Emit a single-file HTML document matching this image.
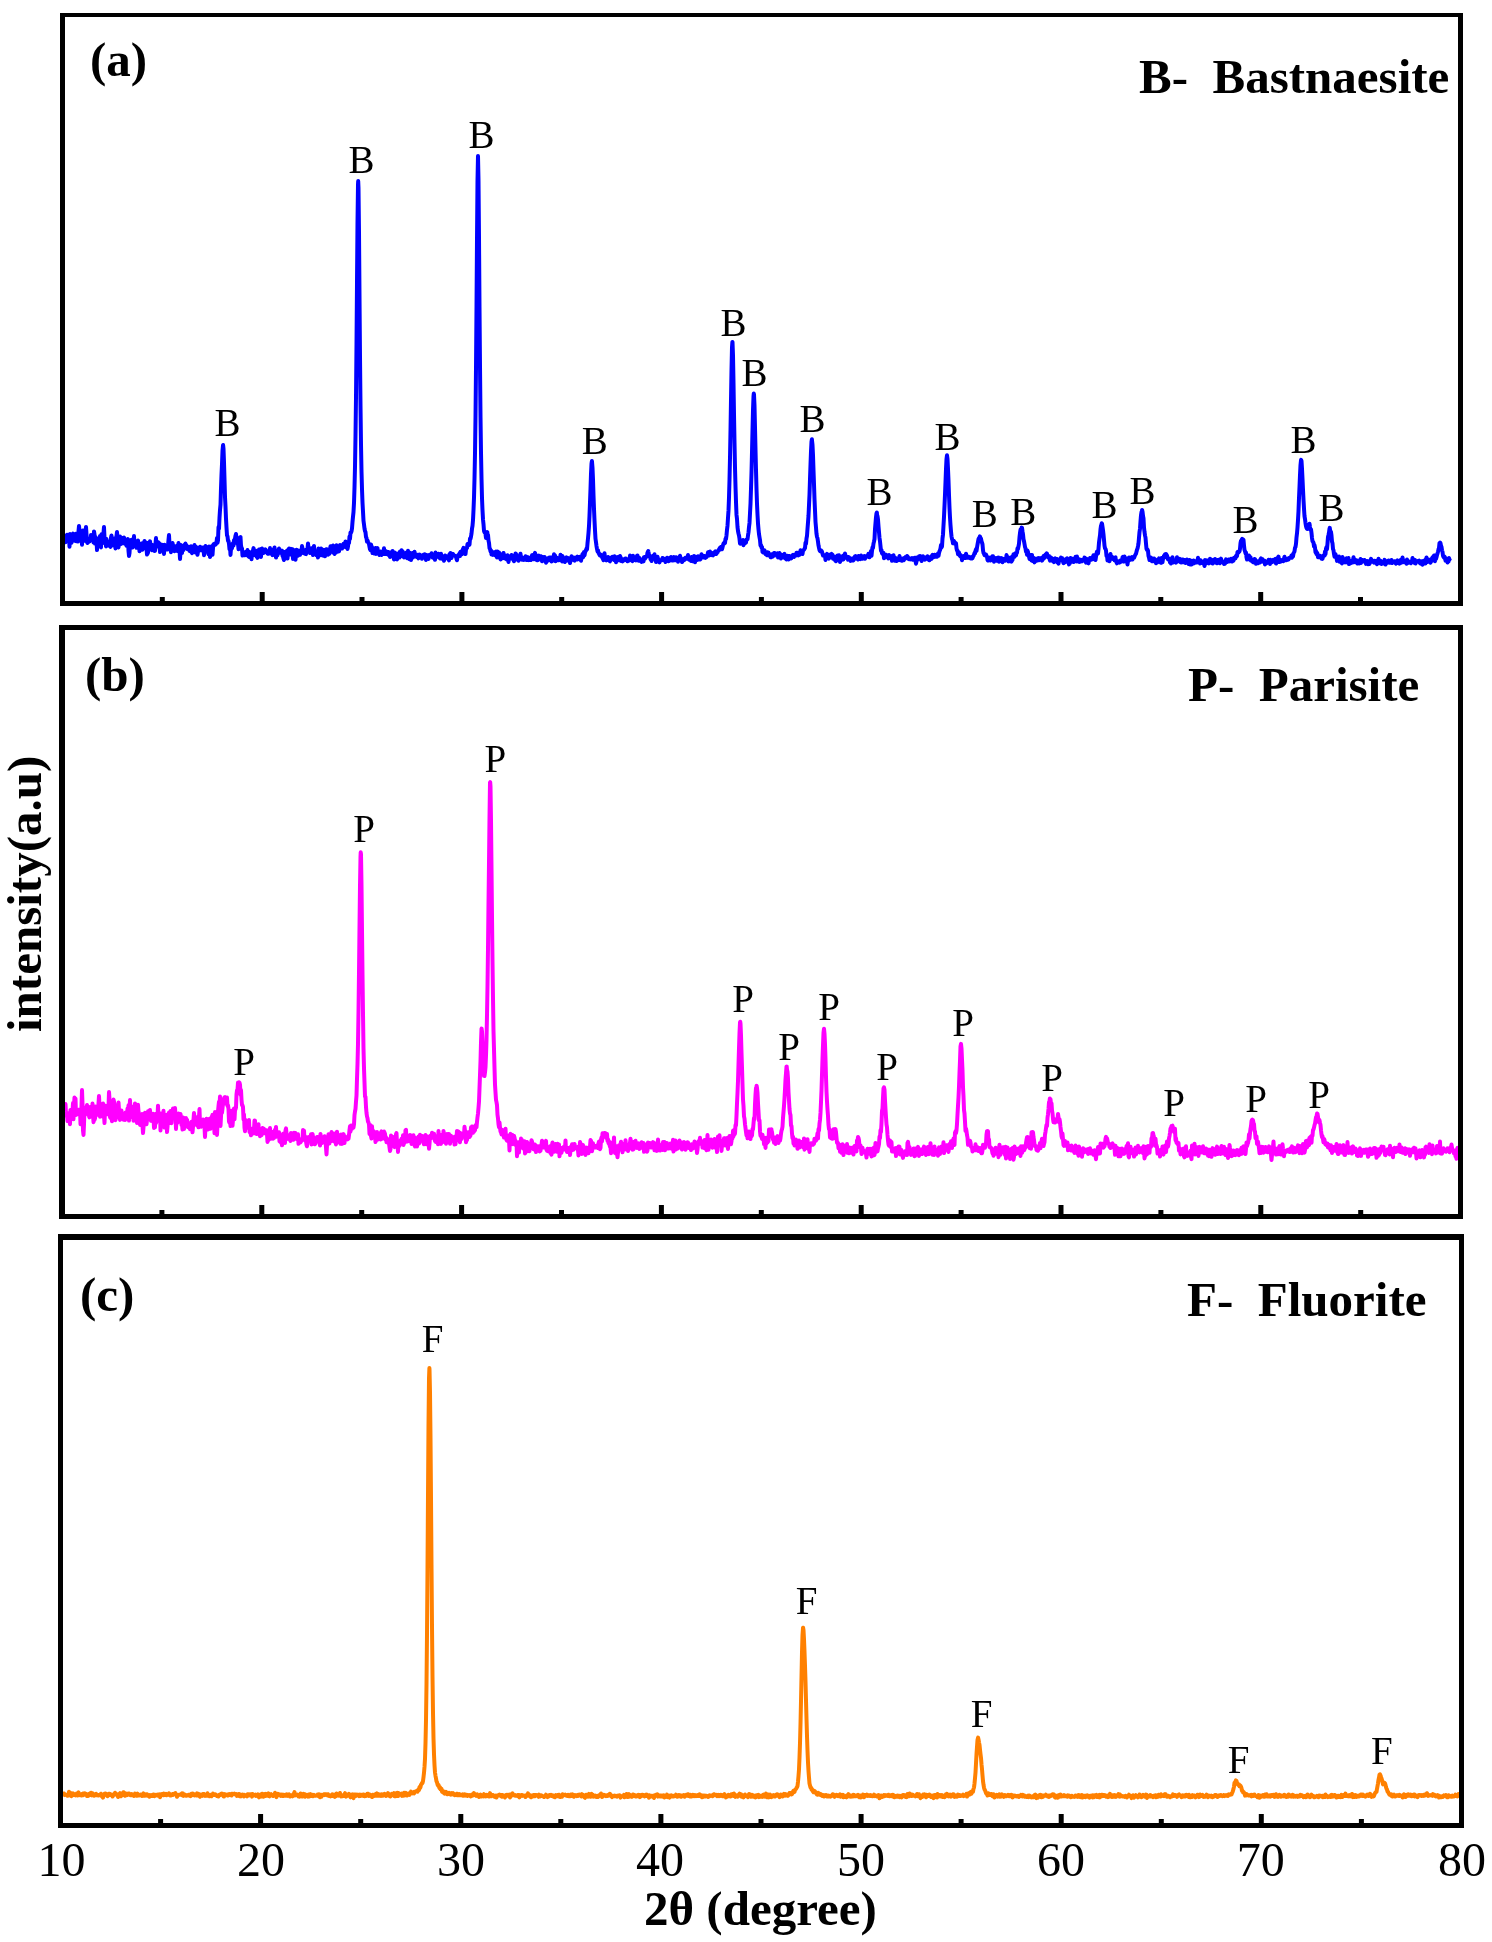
<!DOCTYPE html><html><head><meta charset="utf-8"><style>html,body{margin:0;padding:0;background:#fff;}svg{display:block;}</style></head><body>
<svg width="1492" height="1942" viewBox="0 0 1492 1942" style="will-change:transform">
<rect width="100%" height="100%" fill="#fff"/>
<polyline fill="none" stroke="#0000ff" stroke-width="4.0" stroke-linejoin="round" stroke-linecap="butt" points="65.0,536.5 65.5,542.2 66.0,537.9 66.5,537.3 67.0,534.7 67.5,540.6 68.0,535.5 68.5,539.1 69.0,537.3 69.5,546.7 70.0,534.1 70.5,538.9 71.0,539.5 71.5,542.8 72.0,537.9 72.5,534.3 73.0,533.6 73.5,540.1 74.0,537.4 74.5,540.7 75.0,537.2 75.5,535.1 76.0,533.9 76.5,541.3 77.0,537.6 77.5,535.2 78.0,541.6 78.5,531.2 79.0,526.0 79.5,530.7 80.0,533.0 80.5,535.5 81.0,539.9 81.5,536.6 82.0,544.7 82.5,532.0 83.0,530.5 83.5,535.6 84.0,533.3 84.5,540.8 85.0,536.1 85.5,534.8 86.0,527.0 86.5,534.5 87.0,542.1 87.5,543.0 88.0,539.9 88.5,542.0 89.0,540.2 89.5,541.5 90.0,538.4 90.5,540.2 91.0,534.9 91.5,539.5 92.0,538.8 92.5,539.5 93.0,537.0 93.5,542.6 94.0,531.4 94.5,534.4 95.0,543.6 95.5,537.0 96.0,537.9 96.5,539.4 97.0,550.1 97.5,541.9 98.0,542.6 98.5,541.0 99.0,540.7 99.5,541.7 100.0,535.9 100.5,542.5 101.0,547.4 101.5,534.3 102.0,540.7 102.5,543.2 103.0,540.3 103.5,532.9 104.0,527.0 104.5,537.7 105.0,542.5 105.5,541.1 106.0,546.4 106.5,539.1 107.0,544.3 107.5,541.8 108.0,541.7 108.5,541.9 109.0,545.7 109.5,541.5 110.0,545.5 110.5,546.9 111.0,537.7 111.5,535.5 112.0,545.5 112.5,539.1 113.0,542.8 113.5,539.5 114.0,541.7 114.5,538.4 115.0,544.5 115.5,548.4 116.0,540.0 116.5,536.0 117.0,532.0 117.5,537.4 118.0,543.5 118.5,547.4 119.0,540.5 119.5,540.8 120.0,536.4 120.5,544.3 121.0,541.0 121.5,541.6 122.0,537.9 122.5,542.5 123.0,543.3 123.5,542.8 124.0,537.5 124.5,540.3 125.0,543.4 125.5,541.6 126.0,544.6 126.5,545.7 127.0,539.4 127.5,540.6 128.0,539.1 128.5,550.9 129.0,556.0 129.5,553.2 130.0,544.2 130.5,541.5 131.0,543.3 131.5,539.8 132.0,543.9 132.5,547.6 133.0,541.6 133.5,546.1 134.0,536.0 134.5,545.3 135.0,543.9 135.5,543.4 136.0,542.0 136.5,547.8 137.0,544.3 137.5,547.7 138.0,540.5 138.5,544.4 139.0,545.9 139.5,551.3 140.0,545.3 140.5,545.5 141.0,544.6 141.5,543.5 142.0,543.4 142.5,549.8 143.0,548.1 143.5,542.9 144.0,546.3 144.5,541.0 145.0,547.1 145.5,546.5 146.0,542.4 146.5,548.3 147.0,554.5 147.5,553.7 148.0,552.6 148.5,548.5 149.0,542.4 149.5,542.6 150.0,541.3 150.5,544.6 151.0,549.6 151.5,549.0 152.0,550.2 152.5,545.1 153.0,545.6 153.5,548.6 154.0,545.4 154.5,551.0 155.0,550.8 155.5,543.6 156.0,538.1 156.5,546.8 157.0,542.0 157.5,542.4 158.0,542.0 158.5,542.6 159.0,542.9 159.5,544.6 160.0,552.1 160.5,544.3 161.0,548.4 161.5,544.7 162.0,544.9 162.5,547.2 163.0,547.8 163.5,545.0 164.0,553.9 164.5,544.7 165.0,548.9 165.5,545.9 166.0,548.5 166.5,547.5 167.0,546.0 167.5,549.6 168.0,545.6 168.5,540.0 169.0,535.0 169.5,544.3 170.0,546.7 170.5,547.6 171.0,552.2 171.5,545.8 172.0,546.3 172.5,542.9 173.0,545.4 173.5,547.3 174.0,545.9 174.5,551.3 175.0,549.3 175.5,549.5 176.0,548.3 176.5,546.1 177.0,549.2 177.5,551.0 178.0,546.6 178.5,543.1 179.0,548.6 179.5,549.8 180.0,559.0 180.5,552.0 181.0,545.0 181.5,546.6 182.0,553.1 182.5,545.9 183.0,549.1 183.5,550.0 184.0,545.8 184.5,544.9 185.0,547.7 185.5,543.6 186.0,544.9 186.5,545.5 187.0,548.3 187.5,549.1 188.0,549.0 188.5,547.7 189.0,546.9 189.5,551.0 190.0,551.2 190.5,549.9 191.0,546.2 191.5,551.8 192.0,553.1 192.5,549.1 193.0,551.1 193.5,547.9 194.0,550.3 194.5,544.9 195.0,552.3 195.5,549.5 196.0,546.8 196.5,548.1 197.0,553.3 197.5,554.8 198.0,551.4 198.5,551.1 199.0,548.9 199.5,548.8 200.0,546.8 200.5,548.0 201.0,548.0 201.5,550.2 202.0,547.6 202.5,550.7 203.0,547.4 203.5,548.7 204.0,555.2 204.5,552.3 205.0,550.2 205.5,546.1 206.0,548.7 206.5,549.2 207.0,548.1 207.5,548.7 208.0,548.8 208.5,554.2 209.0,546.6 209.5,552.3 210.0,557.0 210.5,554.5 211.0,548.7 211.5,549.3 212.0,546.1 212.5,554.8 213.0,548.0 213.5,544.2 214.0,545.2 214.5,543.9 215.0,544.8 215.5,544.6 216.0,544.1 216.5,542.8 217.0,538.0 217.5,542.8 218.0,540.3 218.5,527.0 219.0,528.7 219.5,517.8 220.0,510.0 220.5,504.7 221.0,488.3 221.5,474.8 222.0,464.2 222.5,450.8 223.0,445.4 223.1,445.0 223.5,448.7 224.0,462.2 224.5,479.2 225.0,497.1 225.5,506.5 226.0,518.7 226.5,527.7 227.0,535.4 227.5,536.2 228.0,540.8 228.5,540.9 229.0,543.8 229.5,549.3 230.0,545.9 230.5,554.9 231.0,548.3 231.5,549.0 232.0,548.1 232.5,543.8 233.0,543.1 233.5,545.5 234.0,540.3 234.5,540.2 235.0,538.6 235.5,535.7 236.0,534.0 236.5,539.6 237.0,541.0 237.5,544.0 238.0,543.2 238.5,549.2 239.0,545.6 239.5,546.9 240.0,537.4 240.5,537.0 241.0,545.5 241.5,547.9 242.0,548.5 242.5,555.5 243.0,551.6 243.5,551.9 244.0,554.5 244.5,555.1 245.0,555.3 245.5,554.7 246.0,553.7 246.5,551.5 247.0,555.0 247.5,550.1 248.0,555.6 248.5,556.4 249.0,556.9 249.5,551.9 250.0,555.8 250.5,553.4 251.0,552.9 251.5,559.2 252.0,553.7 252.5,554.3 253.0,550.4 253.5,548.1 254.0,552.5 254.5,553.1 255.0,555.0 255.5,554.9 256.0,550.7 256.5,556.6 257.0,556.8 257.5,557.8 258.0,552.4 258.5,550.7 259.0,549.5 259.5,549.5 260.0,549.3 260.5,552.6 261.0,556.9 261.5,550.6 262.0,548.5 262.5,551.3 263.0,549.4 263.5,553.1 264.0,550.5 264.5,551.7 265.0,551.9 265.5,549.4 266.0,550.9 266.5,551.4 267.0,552.7 267.5,553.6 268.0,551.6 268.5,553.8 269.0,553.0 269.5,553.5 270.0,548.1 270.5,552.7 271.0,552.5 271.5,549.8 272.0,552.6 272.5,555.1 273.0,554.7 273.5,549.6 274.0,549.8 274.5,547.5 275.0,554.4 275.5,552.5 276.0,557.6 276.5,555.8 277.0,550.8 277.5,555.3 278.0,550.6 278.5,550.6 279.0,548.5 279.5,551.3 280.0,552.8 280.5,551.1 281.0,551.6 281.5,552.5 282.0,550.6 282.5,555.7 283.0,556.5 283.5,558.5 284.0,560.0 284.5,551.9 285.0,552.1 285.5,553.4 286.0,553.9 286.5,552.8 287.0,550.6 287.5,558.5 288.0,552.0 288.5,550.4 289.0,548.5 289.5,554.6 290.0,551.7 290.5,550.7 291.0,548.9 291.5,553.4 292.0,554.2 292.5,549.3 293.0,558.9 293.5,553.7 294.0,551.8 294.5,550.4 295.0,552.6 295.5,559.7 296.0,554.8 296.5,549.8 297.0,554.3 297.5,554.4 298.0,555.6 298.5,552.5 299.0,550.6 299.5,553.5 300.0,554.8 300.5,551.9 301.0,551.9 301.5,552.0 302.0,546.1 302.5,548.5 303.0,549.3 303.5,553.3 304.0,553.3 304.5,552.6 305.0,552.3 305.5,554.0 306.0,554.1 306.5,549.6 307.0,549.2 307.5,548.7 308.0,543.5 308.5,547.9 309.0,551.7 309.5,550.5 310.0,553.1 310.5,550.8 311.0,549.9 311.5,548.2 312.0,549.5 312.5,552.4 313.0,555.1 313.5,553.1 314.0,546.0 314.5,551.7 315.0,553.2 315.5,553.4 316.0,553.9 316.5,555.3 317.0,554.4 317.5,551.1 318.0,557.5 318.5,548.6 319.0,552.4 319.5,555.6 320.0,549.4 320.5,551.4 321.0,548.4 321.5,550.9 322.0,550.9 322.5,555.6 323.0,549.8 323.5,553.9 324.0,553.3 324.5,549.9 325.0,556.3 325.5,549.9 326.0,549.4 326.5,550.6 327.0,549.4 327.5,550.9 328.0,554.8 328.5,552.5 329.0,551.9 329.5,553.8 330.0,549.5 330.5,546.2 331.0,549.5 331.5,551.7 332.0,551.1 332.5,547.3 333.0,545.5 333.5,552.7 334.0,552.4 334.5,554.0 335.0,549.1 335.5,552.0 336.0,552.7 336.5,545.2 337.0,548.9 337.5,548.9 338.0,547.6 338.5,549.4 339.0,551.4 339.5,548.8 340.0,545.0 340.5,545.2 341.0,546.8 341.5,545.6 342.0,548.6 342.5,545.1 343.0,546.7 343.5,543.8 344.0,545.9 344.5,543.2 345.0,547.0 345.5,541.4 346.0,544.4 346.5,541.9 347.0,543.7 347.5,549.0 348.0,546.3 348.5,541.7 349.0,543.1 349.5,536.5 350.0,538.9 350.5,532.4 351.0,532.6 351.5,531.5 352.0,528.4 352.5,522.0 353.0,516.7 353.5,512.0 354.0,502.8 354.5,487.6 355.0,466.7 355.5,436.4 356.0,397.2 356.5,344.7 357.0,282.9 357.5,222.6 358.0,184.7 358.2,181.0 358.5,188.2 359.0,232.6 359.5,295.9 360.0,356.4 360.5,405.6 361.0,444.5 361.5,471.2 362.0,489.2 362.5,502.5 363.0,511.6 363.5,520.8 364.0,524.5 364.5,528.5 365.0,531.1 365.5,532.2 366.0,537.0 366.5,538.0 367.0,541.6 367.5,540.3 368.0,541.7 368.5,542.9 369.0,544.1 369.5,546.8 370.0,549.3 370.5,550.1 371.0,544.5 371.5,546.9 372.0,547.0 372.5,553.0 373.0,549.3 373.5,549.8 374.0,553.4 374.5,550.3 375.0,552.4 375.5,548.1 376.0,553.9 376.5,549.4 377.0,549.0 377.5,548.2 378.0,552.4 378.5,553.9 379.0,552.4 379.5,555.0 380.0,551.6 380.5,551.5 381.0,551.7 381.5,555.0 382.0,551.9 382.5,552.1 383.0,552.7 383.5,552.4 384.0,548.3 384.5,554.1 385.0,551.7 385.5,551.0 386.0,554.1 386.5,551.4 387.0,553.6 387.5,554.0 388.0,554.7 388.5,552.0 389.0,553.3 389.5,553.8 390.0,557.0 390.5,553.8 391.0,554.3 391.5,552.8 392.0,551.7 392.5,551.0 393.0,552.6 393.5,556.3 394.0,559.5 394.5,553.4 395.0,552.6 395.5,554.3 396.0,554.6 396.5,554.2 397.0,559.4 397.5,557.6 398.0,555.4 398.5,553.2 399.0,555.5 399.5,557.5 400.0,551.4 400.5,551.6 401.0,553.5 401.5,550.2 402.0,555.9 402.5,551.3 403.0,552.1 403.5,553.4 404.0,557.4 404.5,556.4 405.0,554.6 405.5,554.0 406.0,555.0 406.5,552.5 407.0,558.2 407.5,558.1 408.0,550.8 408.5,555.0 409.0,555.7 409.5,559.2 410.0,552.7 410.5,557.1 411.0,560.0 411.5,554.1 412.0,553.8 412.5,553.2 413.0,557.4 413.5,554.0 414.0,555.2 414.5,551.7 415.0,554.3 415.5,554.6 416.0,556.2 416.5,556.9 417.0,556.1 417.5,554.9 418.0,557.3 418.5,558.3 419.0,555.7 419.5,554.5 420.0,555.2 420.5,555.6 421.0,557.1 421.5,556.0 422.0,558.8 422.5,555.3 423.0,555.7 423.5,554.8 424.0,556.6 424.5,555.9 425.0,554.4 425.5,556.5 426.0,559.9 426.5,555.0 427.0,555.3 427.5,557.1 428.0,557.5 428.5,558.9 429.0,555.0 429.5,555.3 430.0,555.5 430.5,556.5 431.0,556.0 431.5,553.3 432.0,556.3 432.5,557.3 433.0,554.9 433.5,554.7 434.0,558.2 434.5,556.8 435.0,559.8 435.5,552.5 436.0,557.7 436.5,556.7 437.0,556.6 437.5,556.8 438.0,556.7 438.5,553.8 439.0,556.9 439.5,555.3 440.0,558.5 440.5,557.6 441.0,553.8 441.5,558.1 442.0,556.0 442.5,559.0 443.0,557.0 443.5,558.6 444.0,560.8 444.5,557.7 445.0,555.5 445.5,558.0 446.0,557.7 446.5,556.1 447.0,556.5 447.5,557.2 448.0,556.9 448.5,559.7 449.0,560.4 449.5,554.1 450.0,553.9 450.5,553.0 451.0,553.4 451.5,558.0 452.0,554.6 452.5,555.9 453.0,554.0 453.5,555.4 454.0,555.6 454.5,555.7 455.0,555.8 455.5,556.0 456.0,556.2 456.5,559.0 457.0,560.2 457.5,557.1 458.0,555.3 458.5,554.9 459.0,554.7 459.5,553.4 460.0,556.0 460.5,551.8 461.0,554.4 461.5,552.9 462.0,554.2 462.5,550.3 463.0,549.1 463.5,547.9 464.0,551.4 464.5,548.8 465.0,553.0 465.5,554.0 466.0,549.6 466.5,548.4 467.0,548.0 467.5,544.1 468.0,544.8 468.5,545.3 469.0,544.6 469.5,544.7 470.0,538.6 470.5,538.8 471.0,536.5 471.5,533.6 472.0,528.7 472.5,525.8 473.0,520.1 473.5,510.0 474.0,497.7 474.5,478.7 475.0,453.5 475.5,417.3 476.0,368.1 476.5,307.7 477.0,239.3 477.5,180.7 478.0,156.0 478.5,180.4 479.0,237.5 479.5,306.6 480.0,366.1 480.5,416.5 481.0,452.5 481.5,478.3 482.0,498.2 482.5,510.2 483.0,519.4 483.5,524.2 484.0,530.8 484.5,532.3 485.0,532.2 485.5,534.1 486.0,538.1 486.5,533.0 487.0,532.8 487.3,532.0 487.5,534.9 488.0,534.8 488.5,540.5 489.0,542.8 489.5,548.1 490.0,548.9 490.5,551.4 491.0,550.3 491.5,554.6 492.0,552.1 492.5,552.8 493.0,554.9 493.5,552.3 494.0,553.2 494.5,553.9 495.0,554.4 495.5,555.5 496.0,551.6 496.5,553.3 497.0,557.5 497.5,551.5 498.0,553.6 498.5,556.0 499.0,552.4 499.5,553.3 500.0,553.8 500.5,559.4 501.0,556.4 501.5,558.6 502.0,557.0 502.5,558.3 503.0,554.4 503.5,553.0 504.0,555.2 504.5,555.3 505.0,557.8 505.5,558.7 506.0,558.9 506.5,559.4 507.0,558.4 507.5,555.3 508.0,558.1 508.5,561.9 509.0,558.2 509.5,556.8 510.0,558.8 510.5,556.0 511.0,557.7 511.5,554.9 512.0,558.5 512.5,557.2 513.0,559.3 513.5,560.1 514.0,561.2 514.5,557.2 515.0,557.0 515.5,553.5 516.0,554.0 516.5,557.7 517.0,557.8 517.5,559.6 518.0,557.6 518.5,560.8 519.0,558.1 519.5,557.7 520.0,555.0 520.5,553.7 521.0,558.6 521.5,557.0 522.0,559.7 522.5,557.6 523.0,559.4 523.5,559.8 524.0,558.7 524.5,558.3 525.0,559.6 525.5,556.3 526.0,556.4 526.5,560.1 527.0,558.4 527.5,560.0 528.0,557.2 528.5,557.8 529.0,560.1 529.5,559.9 530.0,559.6 530.5,558.6 531.0,560.0 531.5,556.8 532.0,555.3 532.5,558.1 533.0,555.1 533.5,559.2 534.0,557.6 534.5,554.7 535.0,552.9 535.5,554.3 536.0,559.7 536.5,558.8 537.0,560.2 537.5,559.3 538.0,560.1 538.5,558.3 539.0,555.6 539.5,557.4 540.0,557.5 540.5,558.1 541.0,556.3 541.5,557.5 542.0,561.3 542.5,558.5 543.0,557.0 543.5,557.1 544.0,557.7 544.5,557.0 545.0,558.7 545.5,560.0 546.0,562.7 546.5,561.6 547.0,558.4 547.5,560.0 548.0,560.7 548.5,559.6 549.0,557.9 549.5,558.9 550.0,557.6 550.5,559.2 551.0,557.5 551.5,561.4 552.0,558.5 552.5,560.8 553.0,558.6 553.5,558.6 554.0,554.3 554.5,556.0 555.0,555.3 555.5,561.2 556.0,557.5 556.5,557.6 557.0,560.3 557.5,557.9 558.0,559.1 558.5,560.3 559.0,558.9 559.5,559.1 560.0,559.5 560.5,554.8 561.0,559.9 561.5,560.5 562.0,561.4 562.5,556.1 563.0,557.4 563.5,557.7 564.0,561.5 564.5,560.2 565.0,562.0 565.5,560.4 566.0,558.2 566.5,557.4 567.0,557.7 567.5,560.6 568.0,558.6 568.5,558.3 569.0,560.5 569.5,561.2 570.0,563.0 570.5,560.5 571.0,559.5 571.5,556.3 572.0,558.6 572.5,558.7 573.0,558.8 573.5,557.6 574.0,560.3 574.5,560.6 575.0,558.4 575.5,557.6 576.0,559.0 576.5,559.2 577.0,559.5 577.5,556.6 578.0,559.4 578.5,557.0 579.0,557.3 579.5,559.0 580.0,556.9 580.5,559.1 581.0,560.8 581.5,558.2 582.0,556.3 582.5,554.1 583.0,557.2 583.5,556.3 584.0,551.9 584.5,555.4 585.0,552.7 585.5,550.8 586.0,550.7 586.5,548.5 587.0,549.3 587.5,543.5 588.0,538.4 588.5,533.0 589.0,526.0 589.5,515.7 590.0,502.4 590.5,489.1 591.0,473.9 591.5,463.8 591.9,461.0 592.0,461.7 592.5,467.8 593.0,479.6 593.5,495.2 594.0,509.1 594.5,520.3 595.0,530.3 595.5,538.8 596.0,542.2 596.5,546.1 597.0,548.9 597.5,551.3 598.0,550.3 598.5,553.2 599.0,553.2 599.5,554.8 600.0,555.5 600.5,555.6 601.0,554.7 601.5,556.2 602.0,557.0 602.5,558.1 603.0,559.0 603.5,560.2 604.0,557.7 604.5,553.3 605.0,558.3 605.5,557.9 606.0,557.8 606.5,560.4 607.0,557.5 607.5,558.9 608.0,557.0 608.5,559.8 609.0,558.4 609.5,560.9 610.0,561.3 610.5,557.8 611.0,558.0 611.5,557.6 612.0,557.9 612.5,556.8 613.0,559.1 613.5,557.9 614.0,559.9 614.5,556.2 615.0,559.1 615.5,559.0 616.0,562.2 616.5,557.4 617.0,560.2 617.5,557.8 618.0,557.0 618.5,560.2 619.0,560.2 619.5,560.3 620.0,556.1 620.5,557.2 621.0,560.9 621.5,559.3 622.0,560.8 622.5,561.3 623.0,559.2 623.5,560.0 624.0,560.4 624.5,560.2 625.0,559.9 625.5,558.5 626.0,559.4 626.5,559.1 627.0,559.8 627.5,561.3 628.0,560.1 628.5,559.0 629.0,559.3 629.5,560.5 630.0,555.6 630.5,557.5 631.0,559.4 631.5,559.2 632.0,559.7 632.5,561.1 633.0,555.8 633.5,559.1 634.0,557.8 634.5,558.7 635.0,559.8 635.5,557.3 636.0,560.4 636.5,557.2 637.0,555.8 637.5,555.5 638.0,557.9 638.5,558.0 639.0,560.8 639.5,557.9 640.0,559.6 640.5,561.0 641.0,560.6 641.5,561.9 642.0,560.2 642.5,561.4 643.0,559.4 643.5,561.4 644.0,557.1 644.5,557.0 645.0,558.7 645.5,557.4 646.0,557.0 646.5,556.8 647.0,555.8 647.5,552.6 648.0,551.7 648.3,551.0 648.5,552.1 649.0,554.2 649.5,555.9 650.0,555.7 650.5,559.2 651.0,557.5 651.5,561.0 652.0,559.6 652.5,557.2 653.0,558.1 653.5,555.6 654.0,557.9 654.5,554.3 655.0,557.8 655.5,557.9 656.0,562.1 656.5,558.6 657.0,558.9 657.5,556.8 658.0,558.7 658.5,560.2 659.0,560.9 659.5,562.4 660.0,560.3 660.5,560.5 661.0,560.3 661.5,560.3 662.0,559.6 662.5,558.0 663.0,559.8 663.5,559.3 664.0,560.2 664.5,558.9 665.0,559.8 665.5,562.0 666.0,559.1 666.5,559.6 667.0,557.7 667.5,559.8 668.0,560.2 668.5,561.2 669.0,559.9 669.5,558.0 670.0,560.6 670.5,560.1 671.0,557.0 671.5,558.7 672.0,560.4 672.5,558.0 673.0,560.5 673.5,558.8 674.0,557.1 674.5,558.7 675.0,558.2 675.5,560.3 676.0,557.2 676.5,558.0 677.0,560.4 677.5,557.8 678.0,561.7 678.5,557.8 679.0,558.1 679.5,558.1 680.0,555.8 680.5,557.7 681.0,560.3 681.5,560.2 682.0,562.0 682.5,561.5 683.0,559.6 683.5,560.2 684.0,558.8 684.5,559.9 685.0,558.9 685.5,557.8 686.0,557.5 686.5,557.9 687.0,558.7 687.5,558.2 688.0,555.0 688.5,558.1 689.0,559.6 689.5,558.3 690.0,558.0 690.5,557.9 691.0,560.9 691.5,557.1 692.0,558.9 692.5,561.2 693.0,558.1 693.5,560.4 694.0,556.1 694.5,559.4 695.0,562.2 695.5,556.7 696.0,557.4 696.5,558.2 697.0,558.4 697.5,559.9 698.0,556.3 698.5,557.0 699.0,557.3 699.5,558.8 700.0,559.5 700.5,559.1 701.0,556.4 701.5,554.2 702.0,555.4 702.5,556.8 703.0,556.7 703.5,557.3 704.0,556.0 704.5,556.0 705.0,557.1 705.5,557.9 706.0,556.6 706.5,557.0 707.0,556.3 707.5,555.0 708.0,552.3 708.5,552.9 709.0,553.5 709.5,555.4 710.0,551.6 710.5,554.5 711.0,554.9 711.5,554.8 712.0,553.7 712.5,555.3 713.0,555.4 713.5,552.7 714.0,552.6 714.5,552.1 715.0,552.3 715.5,551.4 716.0,554.1 716.5,553.7 717.0,551.7 717.5,552.3 718.0,551.2 718.5,550.1 719.0,550.3 719.5,548.5 720.0,547.7 720.5,549.3 721.0,548.3 721.5,546.9 722.0,549.2 722.5,547.4 723.0,545.3 723.5,543.6 724.0,543.8 724.5,542.4 725.0,543.0 725.5,538.8 726.0,539.0 726.5,535.3 727.0,529.7 727.5,525.7 728.0,517.8 728.5,510.7 729.0,497.5 729.5,480.0 730.0,457.8 730.5,430.7 731.0,399.8 731.5,370.2 732.0,347.4 732.4,342.0 732.5,342.2 733.0,355.5 733.5,382.8 734.0,414.4 734.5,442.4 735.0,467.7 735.5,486.5 736.0,501.9 736.5,514.7 737.0,519.0 737.5,527.0 738.0,531.0 738.5,533.5 739.0,535.4 739.5,538.8 740.0,543.5 740.5,543.8 741.0,543.4 741.5,543.5 742.0,542.8 742.5,543.5 743.0,540.0 743.5,545.2 744.0,543.7 744.5,541.1 745.0,543.2 745.5,542.1 746.0,542.5 746.5,539.5 747.0,539.7 747.5,539.3 748.0,535.5 748.5,532.2 749.0,527.0 749.5,522.9 750.0,513.3 750.5,503.9 751.0,488.8 751.5,472.8 752.0,452.3 752.5,430.5 753.0,410.0 753.5,396.5 753.8,393.5 754.0,394.6 754.5,405.7 755.0,427.5 755.5,449.6 756.0,470.4 756.5,488.9 757.0,503.7 757.5,514.5 758.0,523.5 758.5,529.4 759.0,534.1 759.5,537.2 760.0,540.0 760.5,545.5 761.0,545.1 761.5,547.5 762.0,547.1 762.5,551.9 763.0,552.4 763.5,550.1 764.0,551.5 764.5,550.3 765.0,552.8 765.5,554.2 766.0,552.8 766.5,554.0 767.0,555.1 767.5,552.2 768.0,552.5 768.5,552.5 769.0,555.5 769.5,554.4 770.0,555.2 770.5,557.1 771.0,554.5 771.5,557.2 772.0,554.7 772.5,554.2 773.0,556.5 773.5,555.4 774.0,553.0 774.5,554.5 775.0,553.1 775.5,554.1 776.0,553.8 776.5,554.6 777.0,556.0 777.5,553.2 778.0,557.5 778.5,556.7 779.0,556.5 779.5,552.9 780.0,555.0 780.5,556.4 781.0,558.5 781.5,554.8 782.0,555.5 782.5,556.2 783.0,557.1 783.5,555.3 784.0,556.2 784.5,553.9 785.0,558.4 785.5,555.8 786.0,556.1 786.5,559.4 787.0,556.0 787.5,555.8 788.0,556.5 788.5,559.5 789.0,555.9 789.5,556.1 790.0,557.3 790.5,556.5 791.0,558.5 791.5,558.1 792.0,556.1 792.5,555.3 793.0,554.9 793.5,556.0 794.0,556.9 794.5,555.4 795.0,554.8 795.5,554.8 796.0,555.4 796.5,552.7 797.0,552.8 797.5,553.5 798.0,553.2 798.5,555.4 799.0,553.9 799.5,554.7 800.0,553.5 800.5,550.3 801.0,553.4 801.5,552.4 802.0,553.5 802.5,554.0 803.0,550.8 803.5,550.1 804.0,549.7 804.5,548.9 805.0,548.0 805.5,542.7 806.0,543.9 806.5,538.5 807.0,535.9 807.5,528.8 808.0,522.5 808.5,516.0 809.0,505.4 809.5,494.5 810.0,479.1 810.5,464.8 811.0,451.4 811.5,441.6 811.9,439.3 812.0,440.4 812.5,445.0 813.0,455.4 813.5,470.3 814.0,484.4 814.5,499.0 815.0,510.4 815.5,521.8 816.0,527.7 816.5,533.8 817.0,536.9 817.5,538.2 818.0,541.7 818.5,545.4 819.0,547.9 819.5,550.1 820.0,551.1 820.5,550.9 821.0,550.3 821.5,550.8 822.0,551.7 822.5,553.7 823.0,555.5 823.5,555.0 824.0,554.9 824.5,555.5 825.0,555.5 825.5,559.9 826.0,555.7 826.5,555.9 827.0,553.9 827.5,556.3 828.0,557.3 828.5,556.6 829.0,558.6 829.5,554.9 830.0,554.7 830.5,555.0 831.0,554.3 831.5,553.8 832.0,555.3 832.5,554.7 833.0,558.7 833.5,556.7 834.0,556.9 834.5,556.7 835.0,560.3 835.5,558.7 836.0,561.3 836.5,560.1 837.0,556.2 837.5,555.5 838.0,556.3 838.5,557.3 839.0,555.3 839.5,556.9 840.0,562.0 840.5,560.0 841.0,559.4 841.5,560.0 842.0,557.8 842.5,557.1 843.0,555.8 843.5,559.4 844.0,556.7 844.5,558.2 845.0,553.5 845.5,555.6 846.0,557.5 846.5,557.2 847.0,557.8 847.5,557.8 848.0,559.6 848.5,557.0 849.0,557.4 849.5,559.2 850.0,559.2 850.5,560.9 851.0,559.8 851.5,558.7 852.0,559.6 852.5,560.5 853.0,560.0 853.5,560.3 854.0,557.5 854.5,558.7 855.0,556.4 855.5,556.0 856.0,558.4 856.5,557.4 857.0,558.5 857.5,558.9 858.0,559.5 858.5,556.1 859.0,556.8 859.5,556.9 860.0,558.3 860.5,559.1 861.0,555.5 861.5,556.3 862.0,556.3 862.5,558.8 863.0,557.6 863.5,557.2 864.0,556.3 864.5,556.0 865.0,558.8 865.5,556.7 866.0,556.3 866.5,556.9 867.0,556.4 867.5,556.1 868.0,555.0 868.5,553.7 869.0,555.1 869.5,557.2 870.0,555.1 870.5,555.5 871.0,551.1 871.5,555.8 872.0,550.9 872.5,547.3 873.0,547.8 873.5,543.6 874.0,541.5 874.5,539.1 875.0,529.2 875.5,523.2 876.0,517.2 876.5,513.3 876.9,512.5 877.0,514.6 877.5,516.1 878.0,519.6 878.5,526.3 879.0,532.1 879.5,538.0 880.0,541.4 880.5,546.1 881.0,550.9 881.5,550.2 882.0,553.2 882.5,554.0 883.0,554.0 883.5,552.9 884.0,558.2 884.5,556.6 885.0,556.9 885.5,557.4 886.0,554.7 886.5,555.5 887.0,557.2 887.5,555.8 888.0,556.6 888.5,558.4 889.0,554.9 889.5,556.5 890.0,557.1 890.5,556.7 891.0,557.9 891.5,557.8 892.0,560.8 892.5,555.7 893.0,557.8 893.5,555.3 894.0,557.5 894.5,558.2 895.0,560.8 895.5,558.0 896.0,558.1 896.5,561.1 897.0,560.1 897.5,559.9 898.0,559.4 898.5,560.1 899.0,559.8 899.5,556.1 900.0,558.3 900.5,560.2 901.0,559.5 901.5,558.7 902.0,560.7 902.5,559.9 903.0,558.5 903.5,560.3 904.0,560.1 904.5,557.9 905.0,558.6 905.5,557.0 906.0,557.0 906.5,557.9 907.0,556.0 907.5,556.4 908.0,558.7 908.5,557.7 909.0,559.2 909.5,558.9 910.0,558.5 910.5,559.3 911.0,558.7 911.5,558.6 912.0,558.0 912.5,559.8 913.0,559.7 913.5,558.3 914.0,559.7 914.5,559.4 915.0,557.7 915.5,561.0 916.0,563.7 916.5,561.3 917.0,557.5 917.5,559.9 918.0,559.2 918.5,558.3 919.0,556.3 919.5,556.3 920.0,556.0 920.5,556.3 921.0,557.6 921.5,561.0 922.0,559.6 922.5,559.0 923.0,556.3 923.5,557.6 924.0,559.3 924.5,557.8 925.0,559.6 925.5,558.8 926.0,557.8 926.5,557.0 927.0,558.6 927.5,556.2 928.0,557.5 928.5,559.6 929.0,557.3 929.5,560.3 930.0,558.4 930.5,557.1 931.0,557.4 931.5,558.9 932.0,555.6 932.5,554.9 933.0,557.0 933.5,557.2 934.0,557.1 934.5,554.7 935.0,556.8 935.5,555.3 936.0,554.9 936.5,554.8 937.0,556.8 937.5,555.1 938.0,553.6 938.5,555.9 939.0,553.1 939.5,551.2 940.0,550.2 940.5,548.4 941.0,545.1 941.5,547.5 942.0,546.4 942.5,538.6 943.0,534.4 943.5,525.5 944.0,516.8 944.5,505.8 945.0,494.7 945.5,482.2 946.0,469.2 946.5,459.0 947.0,455.2 947.5,459.1 948.0,469.0 948.5,480.8 949.0,495.4 949.5,507.8 950.0,517.5 950.5,525.2 951.0,531.3 951.5,536.3 952.0,538.8 952.5,540.4 953.0,543.3 953.5,541.4 954.0,541.1 954.5,542.0 955.0,543.8 955.5,542.9 956.0,543.2 956.5,548.3 957.0,550.5 957.5,550.7 958.0,554.2 958.5,552.8 959.0,552.4 959.5,555.3 960.0,555.9 960.5,555.0 961.0,556.0 961.5,557.0 962.0,560.2 962.5,556.8 963.0,556.3 963.5,557.8 964.0,556.0 964.5,557.9 965.0,557.3 965.5,557.9 966.0,553.7 966.5,556.7 967.0,555.9 967.5,557.7 968.0,557.6 968.5,556.5 969.0,557.7 969.5,557.9 970.0,558.1 970.5,558.5 971.0,558.3 971.5,557.0 972.0,558.5 972.5,558.1 973.0,556.7 973.5,555.9 974.0,554.8 974.5,553.1 975.0,553.4 975.5,550.9 976.0,549.2 976.5,550.9 977.0,547.5 977.5,544.6 978.0,542.0 978.5,539.1 979.0,538.0 979.5,537.7 979.8,536.4 980.0,536.7 980.5,538.0 981.0,538.7 981.5,541.2 982.0,542.6 982.5,544.4 983.0,550.2 983.5,553.0 984.0,553.6 984.5,555.2 985.0,554.6 985.5,555.5 986.0,554.6 986.5,555.6 987.0,556.6 987.5,560.0 988.0,560.5 988.5,557.7 989.0,558.0 989.5,558.0 990.0,557.6 990.5,560.6 991.0,557.9 991.5,557.9 992.0,558.2 992.5,556.3 993.0,556.3 993.5,558.2 994.0,561.7 994.5,559.8 995.0,559.1 995.5,558.2 996.0,559.3 996.5,560.0 997.0,560.6 997.5,557.8 998.0,558.0 998.5,557.7 999.0,561.7 999.5,559.5 1000.0,558.8 1000.5,560.3 1001.0,558.1 1001.5,559.9 1002.0,558.4 1002.5,562.2 1003.0,558.9 1003.5,559.0 1004.0,558.9 1004.5,559.8 1005.0,560.7 1005.5,559.7 1006.0,560.3 1006.5,555.1 1007.0,556.6 1007.5,557.8 1008.0,558.7 1008.5,561.4 1009.0,560.3 1009.5,559.3 1010.0,557.8 1010.5,561.2 1011.0,559.1 1011.5,561.6 1012.0,556.7 1012.5,560.1 1013.0,556.2 1013.5,554.4 1014.0,556.0 1014.5,556.8 1015.0,554.8 1015.5,553.2 1016.0,555.3 1016.5,553.0 1017.0,552.7 1017.5,548.2 1018.0,548.9 1018.5,546.4 1019.0,543.6 1019.5,537.3 1020.0,532.9 1020.5,529.7 1021.0,529.5 1021.5,532.2 1021.6,527.5 1022.0,527.8 1022.5,531.4 1023.0,534.3 1023.5,539.2 1024.0,541.2 1024.5,544.0 1025.0,546.9 1025.5,548.4 1026.0,551.6 1026.5,551.3 1027.0,554.8 1027.5,550.6 1028.0,551.9 1028.5,556.0 1029.0,556.3 1029.5,559.0 1030.0,556.0 1030.5,558.2 1031.0,555.0 1031.5,560.5 1032.0,555.0 1032.5,560.9 1033.0,558.8 1033.5,557.8 1034.0,560.0 1034.5,562.4 1035.0,561.0 1035.5,558.7 1036.0,558.7 1036.5,559.1 1037.0,560.7 1037.5,560.2 1038.0,558.2 1038.5,558.0 1039.0,560.2 1039.5,560.0 1040.0,559.7 1040.5,558.2 1041.0,559.7 1041.5,558.4 1042.0,560.6 1042.5,559.8 1043.0,558.5 1043.5,556.1 1044.0,558.5 1044.5,555.6 1045.0,555.4 1045.5,554.6 1046.0,554.6 1046.5,553.7 1046.7,553.4 1047.0,553.7 1047.5,556.9 1048.0,556.3 1048.5,556.8 1049.0,556.0 1049.5,559.0 1050.0,560.6 1050.5,560.2 1051.0,557.4 1051.5,559.1 1052.0,560.6 1052.5,559.1 1053.0,560.0 1053.5,561.3 1054.0,562.1 1054.5,558.7 1055.0,558.3 1055.5,561.3 1056.0,560.5 1056.5,561.3 1057.0,559.0 1057.5,562.5 1058.0,562.2 1058.5,563.7 1059.0,560.6 1059.5,560.8 1060.0,559.3 1060.5,558.7 1061.0,557.5 1061.5,558.8 1062.0,558.0 1062.5,560.3 1063.0,561.6 1063.5,563.2 1064.0,562.8 1064.5,562.1 1065.0,562.3 1065.5,559.2 1066.0,559.6 1066.5,558.7 1067.0,558.3 1067.5,558.6 1068.0,561.2 1068.5,562.6 1069.0,564.4 1069.5,561.2 1070.0,563.1 1070.5,558.1 1071.0,559.2 1071.5,561.9 1072.0,558.7 1072.5,558.8 1073.0,558.9 1073.5,562.0 1074.0,560.6 1074.5,559.0 1075.0,559.2 1075.5,556.9 1076.0,559.7 1076.5,561.4 1077.0,556.6 1077.5,561.1 1078.0,560.4 1078.5,561.6 1079.0,559.1 1079.5,560.7 1080.0,561.8 1080.5,559.8 1081.0,560.8 1081.5,560.5 1082.0,561.3 1082.5,560.6 1083.0,560.5 1083.5,559.4 1084.0,559.3 1084.5,557.6 1085.0,558.5 1085.5,561.1 1086.0,562.7 1086.5,558.8 1087.0,559.4 1087.5,560.7 1088.0,563.0 1088.5,563.3 1089.0,560.3 1089.5,559.6 1090.0,558.0 1090.5,559.7 1091.0,559.2 1091.5,559.7 1092.0,557.9 1092.5,559.2 1093.0,556.4 1093.5,555.2 1094.0,557.1 1094.5,556.3 1095.0,559.8 1095.5,560.0 1096.0,556.6 1096.5,553.4 1097.0,551.5 1097.5,551.7 1098.0,553.5 1098.5,548.7 1099.0,542.6 1099.5,538.8 1100.0,535.4 1100.5,529.3 1101.0,525.7 1101.5,524.5 1101.7,523.3 1102.0,523.6 1102.5,526.9 1103.0,530.2 1103.5,534.4 1104.0,540.0 1104.5,545.6 1105.0,548.3 1105.5,548.8 1106.0,550.5 1106.5,556.1 1107.0,555.0 1107.5,560.5 1108.0,555.9 1108.5,556.2 1109.0,559.9 1109.5,561.2 1110.0,558.2 1110.5,554.0 1111.0,558.7 1111.5,556.5 1112.0,558.0 1112.5,558.8 1113.0,559.1 1113.5,557.6 1114.0,558.8 1114.5,560.3 1115.0,557.7 1115.5,557.4 1116.0,561.2 1116.5,562.3 1117.0,563.3 1117.5,561.2 1118.0,561.5 1118.5,562.1 1119.0,561.7 1119.5,562.6 1120.0,560.9 1120.5,560.4 1121.0,561.7 1121.5,561.6 1122.0,561.3 1122.5,557.4 1123.0,556.8 1123.5,560.7 1124.0,561.6 1124.5,556.6 1125.0,560.5 1125.5,559.9 1126.0,558.4 1126.5,559.2 1127.0,560.8 1127.5,564.4 1128.0,560.6 1128.5,560.9 1129.0,557.5 1129.5,559.9 1130.0,559.9 1130.5,557.7 1131.0,557.5 1131.5,558.9 1132.0,557.1 1132.5,559.5 1133.0,557.3 1133.5,558.1 1134.0,557.8 1134.5,556.7 1135.0,555.4 1135.5,554.5 1136.0,553.7 1136.5,551.6 1137.0,549.8 1137.5,548.6 1138.0,546.2 1138.5,543.4 1139.0,537.8 1139.5,532.0 1140.0,528.7 1140.5,521.3 1141.0,515.2 1141.5,512.0 1142.0,510.9 1142.1,509.9 1142.5,511.6 1143.0,516.0 1143.5,518.5 1144.0,527.6 1144.5,531.9 1145.0,535.4 1145.5,537.7 1146.0,543.7 1146.5,548.9 1147.0,549.9 1147.5,549.6 1148.0,550.8 1148.5,556.0 1149.0,557.6 1149.5,560.0 1150.0,557.4 1150.5,559.0 1151.0,557.6 1151.5,559.9 1152.0,561.3 1152.5,559.4 1153.0,561.2 1153.5,558.6 1154.0,558.5 1154.5,559.8 1155.0,559.2 1155.5,560.0 1156.0,563.2 1156.5,561.0 1157.0,561.1 1157.5,562.3 1158.0,560.2 1158.5,559.3 1159.0,558.4 1159.5,559.7 1160.0,559.6 1160.5,562.5 1161.0,562.8 1161.5,558.1 1162.0,561.2 1162.5,562.3 1163.0,558.8 1163.5,558.2 1164.0,555.7 1164.5,557.5 1165.0,554.3 1165.5,554.1 1166.0,554.0 1166.5,554.7 1167.0,555.5 1167.5,557.3 1168.0,559.3 1168.5,558.2 1169.0,560.0 1169.5,559.4 1170.0,562.4 1170.5,561.6 1171.0,563.5 1171.5,562.4 1172.0,558.2 1172.5,557.3 1173.0,562.6 1173.5,560.9 1174.0,561.1 1174.5,560.7 1175.0,560.9 1175.5,562.0 1176.0,562.7 1176.5,559.9 1177.0,557.2 1177.5,561.1 1178.0,561.1 1178.5,560.0 1179.0,559.2 1179.5,558.9 1180.0,562.0 1180.5,559.2 1181.0,562.5 1181.5,561.0 1182.0,562.0 1182.5,559.4 1183.0,559.6 1183.5,562.3 1184.0,560.0 1184.5,560.0 1185.0,561.8 1185.5,562.9 1186.0,561.4 1186.5,559.6 1187.0,559.5 1187.5,561.5 1188.0,561.3 1188.5,564.0 1189.0,562.4 1189.5,560.0 1190.0,564.4 1190.5,560.4 1191.0,561.0 1191.5,564.5 1192.0,561.1 1192.5,561.2 1193.0,563.0 1193.5,560.5 1194.0,563.4 1194.5,562.4 1195.0,561.7 1195.5,562.6 1196.0,562.6 1196.5,562.1 1197.0,560.2 1197.5,562.4 1198.0,557.8 1198.5,560.6 1199.0,561.7 1199.5,562.2 1200.0,563.4 1200.5,560.2 1201.0,561.0 1201.5,561.3 1202.0,561.8 1202.5,563.2 1203.0,563.1 1203.5,562.8 1204.0,561.4 1204.5,566.1 1205.0,559.9 1205.5,561.6 1206.0,563.6 1206.5,561.0 1207.0,560.3 1207.5,562.3 1208.0,561.6 1208.5,562.7 1209.0,563.4 1209.5,563.1 1210.0,558.7 1210.5,560.2 1211.0,560.8 1211.5,561.9 1212.0,559.9 1212.5,563.6 1213.0,560.8 1213.5,562.0 1214.0,561.5 1214.5,562.4 1215.0,558.9 1215.5,562.0 1216.0,561.3 1216.5,561.4 1217.0,563.2 1217.5,560.0 1218.0,562.9 1218.5,561.1 1219.0,559.9 1219.5,561.4 1220.0,563.2 1220.5,560.8 1221.0,558.6 1221.5,560.7 1222.0,561.2 1222.5,561.4 1223.0,562.1 1223.5,562.9 1224.0,563.9 1224.5,561.5 1225.0,563.8 1225.5,560.7 1226.0,559.3 1226.5,560.4 1227.0,562.0 1227.5,560.9 1228.0,561.5 1228.5,559.5 1229.0,561.5 1229.5,560.4 1230.0,559.6 1230.5,561.1 1231.0,558.7 1231.5,560.0 1232.0,561.5 1232.5,561.0 1233.0,559.6 1233.5,560.6 1234.0,557.7 1234.5,559.0 1235.0,558.2 1235.5,558.2 1236.0,556.0 1236.5,555.5 1237.0,556.0 1237.5,551.9 1238.0,553.0 1238.5,552.4 1239.0,551.8 1239.5,551.3 1240.0,548.7 1240.5,543.2 1241.0,540.7 1241.5,540.3 1242.0,539.2 1242.2,538.9 1242.5,539.2 1243.0,539.4 1243.5,539.9 1244.0,545.6 1244.5,549.9 1245.0,551.2 1245.5,553.3 1246.0,552.6 1246.5,557.3 1247.0,559.5 1247.5,558.0 1248.0,558.1 1248.5,558.8 1249.0,555.5 1249.5,557.6 1250.0,559.9 1250.5,557.1 1251.0,560.8 1251.5,560.8 1252.0,561.2 1252.5,560.4 1253.0,562.1 1253.5,560.9 1254.0,562.4 1254.5,558.9 1255.0,559.2 1255.5,561.5 1256.0,563.8 1256.5,562.0 1257.0,561.9 1257.5,561.3 1258.0,563.3 1258.5,561.3 1259.0,561.9 1259.5,561.2 1260.0,562.4 1260.5,559.1 1261.0,558.4 1261.5,560.2 1262.0,561.5 1262.5,559.3 1263.0,560.1 1263.5,561.5 1264.0,562.4 1264.5,560.7 1265.0,564.5 1265.5,561.8 1266.0,563.6 1266.5,563.3 1267.0,562.7 1267.5,562.5 1268.0,561.5 1268.5,559.7 1269.0,561.9 1269.5,560.4 1270.0,563.9 1270.5,559.8 1271.0,560.3 1271.5,561.5 1272.0,562.2 1272.5,562.0 1273.0,561.0 1273.5,559.8 1274.0,560.5 1274.5,561.5 1275.0,561.4 1275.5,558.9 1276.0,563.6 1276.5,562.8 1277.0,560.3 1277.5,559.7 1278.0,557.4 1278.5,556.6 1279.0,559.6 1279.5,562.0 1280.0,561.1 1280.5,561.2 1281.0,560.6 1281.5,561.4 1282.0,560.5 1282.5,559.8 1283.0,559.9 1283.5,561.1 1284.0,558.8 1284.5,556.8 1285.0,560.1 1285.5,558.9 1286.0,560.3 1286.5,559.3 1287.0,560.0 1287.5,559.8 1288.0,558.5 1288.5,559.5 1289.0,558.6 1289.5,557.8 1290.0,558.0 1290.5,557.6 1291.0,556.8 1291.5,555.5 1292.0,557.7 1292.5,554.8 1293.0,556.3 1293.5,553.3 1294.0,552.4 1294.5,551.3 1295.0,547.7 1295.5,546.9 1296.0,543.8 1296.5,537.4 1297.0,533.3 1297.5,527.5 1298.0,520.0 1298.5,511.1 1299.0,498.0 1299.5,487.2 1300.0,475.0 1300.5,465.1 1301.0,460.2 1301.1,459.9 1301.5,461.0 1302.0,468.8 1302.5,478.9 1303.0,489.9 1303.5,499.8 1304.0,508.7 1304.5,516.1 1305.0,519.1 1305.5,523.1 1306.0,526.2 1306.5,527.9 1307.0,528.9 1307.5,528.9 1308.0,527.4 1308.5,524.6 1309.0,526.9 1309.5,523.7 1310.0,527.1 1310.5,529.8 1311.0,529.3 1311.5,533.0 1312.0,538.0 1312.5,541.2 1313.0,541.8 1313.5,542.7 1314.0,546.4 1314.5,545.2 1315.0,547.6 1315.5,552.4 1316.0,551.0 1316.5,554.1 1317.0,552.6 1317.5,553.8 1318.0,557.3 1318.5,555.8 1319.0,557.1 1319.5,556.0 1320.0,555.8 1320.5,556.1 1321.0,556.3 1321.5,558.6 1322.0,558.2 1322.5,558.8 1323.0,556.8 1323.5,555.5 1324.0,555.2 1324.5,555.7 1325.0,551.6 1325.5,554.0 1326.0,548.7 1326.5,547.2 1327.0,549.2 1327.5,543.5 1328.0,537.0 1328.5,535.0 1329.0,532.5 1329.5,528.9 1329.8,527.9 1330.0,529.8 1330.5,531.4 1331.0,531.9 1331.5,535.6 1332.0,541.6 1332.5,543.3 1333.0,549.0 1333.5,550.2 1334.0,554.0 1334.5,556.7 1335.0,556.2 1335.5,554.2 1336.0,556.2 1336.5,557.8 1337.0,560.9 1337.5,558.9 1338.0,560.6 1338.5,559.9 1339.0,556.5 1339.5,561.8 1340.0,560.6 1340.5,558.3 1341.0,560.7 1341.5,559.8 1342.0,563.4 1342.5,557.0 1343.0,558.9 1343.5,560.4 1344.0,560.1 1344.5,561.8 1345.0,562.3 1345.5,561.5 1346.0,560.4 1346.5,558.3 1347.0,559.7 1347.5,562.6 1348.0,561.6 1348.5,558.0 1349.0,564.1 1349.5,560.7 1350.0,562.7 1350.5,561.1 1351.0,563.1 1351.5,560.8 1352.0,562.4 1352.5,562.5 1353.0,560.2 1353.5,557.3 1354.0,561.4 1354.5,559.3 1355.0,562.2 1355.5,562.0 1356.0,560.7 1356.5,560.3 1357.0,560.6 1357.5,563.6 1358.0,563.2 1358.5,561.6 1359.0,561.9 1359.5,563.4 1360.0,562.4 1360.5,558.9 1361.0,563.0 1361.5,561.0 1362.0,561.5 1362.5,561.2 1363.0,560.2 1363.5,560.5 1364.0,561.5 1364.5,560.0 1365.0,561.1 1365.5,560.9 1366.0,563.9 1366.5,561.4 1367.0,561.7 1367.5,561.2 1368.0,564.2 1368.5,563.0 1369.0,561.9 1369.5,564.0 1370.0,561.1 1370.5,560.2 1371.0,558.9 1371.5,559.6 1372.0,561.1 1372.5,561.7 1373.0,561.2 1373.5,561.2 1374.0,562.7 1374.5,560.7 1375.0,561.0 1375.5,561.5 1376.0,561.1 1376.5,563.7 1377.0,564.1 1377.5,562.6 1378.0,562.8 1378.5,558.7 1379.0,562.3 1379.5,561.2 1380.0,563.3 1380.5,560.6 1381.0,562.8 1381.5,563.9 1382.0,563.1 1382.5,562.4 1383.0,562.6 1383.5,563.5 1384.0,561.2 1384.5,559.8 1385.0,563.1 1385.5,564.5 1386.0,561.9 1386.5,561.4 1387.0,561.9 1387.5,562.2 1388.0,562.7 1388.5,560.5 1389.0,561.4 1389.5,562.6 1390.0,561.2 1390.5,561.9 1391.0,562.6 1391.5,559.9 1392.0,563.1 1392.5,562.8 1393.0,561.6 1393.5,562.1 1394.0,562.1 1394.5,561.2 1395.0,561.4 1395.5,563.2 1396.0,563.6 1396.5,562.7 1397.0,562.8 1397.5,560.4 1398.0,563.0 1398.5,561.2 1399.0,561.5 1399.5,563.6 1400.0,562.9 1400.5,560.1 1401.0,562.8 1401.5,562.6 1402.0,560.9 1402.5,557.5 1403.0,559.8 1403.5,560.2 1404.0,562.2 1404.5,562.3 1405.0,562.0 1405.5,561.8 1406.0,560.9 1406.5,563.7 1407.0,559.6 1407.5,563.2 1408.0,562.7 1408.5,562.6 1409.0,562.0 1409.5,561.6 1410.0,562.4 1410.5,561.8 1411.0,563.3 1411.5,561.6 1412.0,561.9 1412.5,558.1 1413.0,559.2 1413.5,560.4 1414.0,560.5 1414.5,562.9 1415.0,559.9 1415.5,563.6 1416.0,561.9 1416.5,561.1 1417.0,561.2 1417.5,561.1 1418.0,561.1 1418.5,560.9 1419.0,560.6 1419.5,562.5 1420.0,563.3 1420.5,563.6 1421.0,563.0 1421.5,561.4 1422.0,562.4 1422.5,564.7 1423.0,560.9 1423.5,562.2 1424.0,561.6 1424.5,560.5 1425.0,563.4 1425.5,563.4 1426.0,560.6 1426.5,557.4 1427.0,561.3 1427.5,562.0 1428.0,561.8 1428.5,560.7 1429.0,559.8 1429.5,559.7 1430.0,561.5 1430.5,562.6 1431.0,561.6 1431.5,559.8 1432.0,558.4 1432.5,557.4 1433.0,560.4 1433.5,559.0 1434.0,555.6 1434.5,558.6 1435.0,561.2 1435.5,555.2 1436.0,558.8 1436.5,557.2 1437.0,555.0 1437.5,553.6 1438.0,551.7 1438.5,549.3 1439.0,548.0 1439.5,543.0 1440.0,543.0 1440.2,542.7 1440.5,543.2 1441.0,545.9 1441.5,546.7 1442.0,550.3 1442.5,551.8 1443.0,555.7 1443.5,556.8 1444.0,557.5 1444.5,556.5 1445.0,557.7 1445.5,560.7 1446.0,559.9 1446.5,561.0 1447.0,558.9 1447.5,562.5 1448.0,561.7 1448.5,561.6 1449.0,558.0 1449.5,559.6 1450.0,558.3"/>
<polyline fill="none" stroke="#ff00ff" stroke-width="4.0" stroke-linejoin="round" stroke-linecap="butt" points="65.0,1111.3 65.5,1104.1 66.0,1114.6 66.5,1116.3 67.0,1114.0 67.5,1121.1 68.0,1113.5 68.5,1115.0 69.0,1113.0 69.5,1119.1 70.0,1124.3 70.5,1109.9 71.0,1111.6 71.5,1110.3 72.0,1115.5 72.5,1112.4 73.0,1103.0 73.5,1119.3 74.0,1105.2 74.5,1097.5 75.0,1099.3 75.5,1098.6 76.0,1115.0 76.5,1114.6 77.0,1114.2 77.5,1112.6 78.0,1111.7 78.5,1109.8 79.0,1114.0 79.5,1111.4 80.0,1109.8 80.5,1124.3 81.0,1117.2 81.5,1105.3 82.0,1090.0 82.5,1103.9 83.0,1130.5 83.5,1135.0 84.0,1124.5 84.5,1107.9 85.0,1107.7 85.5,1111.5 86.0,1108.3 86.5,1107.8 87.0,1105.0 87.5,1107.7 88.0,1114.5 88.5,1108.3 89.0,1116.2 89.5,1117.3 90.0,1107.0 90.5,1107.5 91.0,1110.7 91.5,1110.7 92.0,1116.4 92.5,1103.6 93.0,1114.0 93.5,1122.2 94.0,1115.7 94.5,1119.9 95.0,1118.4 95.5,1106.5 96.0,1115.8 96.5,1110.5 97.0,1112.0 97.5,1111.5 98.0,1112.3 98.5,1103.8 99.0,1096.0 99.5,1106.7 100.0,1116.7 100.5,1111.2 101.0,1115.6 101.5,1114.6 102.0,1104.5 102.5,1116.4 103.0,1103.4 103.5,1104.9 104.0,1115.2 104.5,1123.0 105.0,1110.2 105.5,1106.7 106.0,1105.9 106.5,1110.2 107.0,1113.1 107.5,1114.2 108.0,1109.6 108.5,1107.2 109.0,1092.0 109.5,1099.2 110.0,1117.3 110.5,1114.2 111.0,1118.6 111.5,1116.4 112.0,1121.2 112.5,1117.8 113.0,1111.9 113.5,1099.6 114.0,1101.6 114.5,1105.2 115.0,1104.9 115.5,1120.2 116.0,1114.1 116.5,1107.0 117.0,1117.4 117.5,1113.2 118.0,1109.4 118.5,1102.5 119.0,1109.6 119.5,1117.8 120.0,1119.9 120.5,1117.0 121.0,1118.7 121.5,1110.6 122.0,1116.1 122.5,1116.3 123.0,1118.8 123.5,1119.6 124.0,1117.6 124.5,1115.9 125.0,1120.1 125.5,1112.6 126.0,1113.4 126.5,1114.7 127.0,1118.7 127.5,1108.5 128.0,1113.0 128.5,1105.3 129.0,1120.6 129.5,1108.8 130.0,1100.0 130.5,1111.0 131.0,1116.9 131.5,1116.0 132.0,1115.2 132.5,1108.2 133.0,1106.9 133.5,1120.7 134.0,1106.9 134.5,1113.0 135.0,1103.4 135.5,1117.0 136.0,1121.1 136.5,1119.9 137.0,1123.0 137.5,1121.8 138.0,1104.7 138.5,1111.8 139.0,1117.0 139.5,1119.9 140.0,1124.9 140.5,1118.3 141.0,1119.5 141.5,1118.8 142.0,1114.1 142.5,1125.4 143.0,1133.0 143.5,1127.4 144.0,1116.6 144.5,1114.0 145.0,1112.9 145.5,1118.5 146.0,1115.1 146.5,1124.3 147.0,1119.9 147.5,1117.4 148.0,1111.3 148.5,1116.1 149.0,1112.1 149.5,1113.4 150.0,1110.1 150.5,1119.3 151.0,1120.8 151.5,1120.9 152.0,1118.9 152.5,1118.4 153.0,1113.7 153.5,1117.0 154.0,1127.9 154.5,1117.3 155.0,1127.2 155.5,1114.0 156.0,1123.2 156.5,1117.3 157.0,1118.6 157.5,1117.1 158.0,1105.7 158.5,1118.4 159.0,1120.8 159.5,1120.2 160.0,1113.3 160.5,1130.5 161.0,1118.8 161.5,1121.2 162.0,1126.6 162.5,1124.8 163.0,1116.8 163.5,1110.8 164.0,1124.2 164.5,1127.6 165.0,1124.7 165.5,1119.7 166.0,1122.7 166.5,1114.8 167.0,1132.1 167.5,1126.8 168.0,1119.1 168.5,1120.7 169.0,1112.5 169.5,1123.1 170.0,1120.3 170.5,1110.9 171.0,1115.5 171.5,1123.2 172.0,1112.7 172.5,1115.1 173.0,1108.4 173.5,1116.9 174.0,1114.8 174.5,1118.0 175.0,1108.0 175.5,1115.9 176.0,1129.0 176.5,1120.3 177.0,1120.3 177.5,1122.8 178.0,1120.6 178.5,1113.4 179.0,1116.8 179.5,1117.5 180.0,1120.3 180.5,1113.9 181.0,1117.6 181.5,1125.1 182.0,1123.2 182.5,1129.6 183.0,1119.3 183.5,1117.6 184.0,1129.0 184.5,1122.7 185.0,1125.6 185.5,1126.1 186.0,1118.1 186.5,1120.7 187.0,1119.7 187.5,1122.3 188.0,1127.3 188.5,1123.2 189.0,1125.5 189.5,1125.7 190.0,1129.3 190.5,1129.1 191.0,1124.0 191.5,1121.7 192.0,1122.0 192.5,1132.3 193.0,1126.7 193.5,1119.6 194.0,1113.0 194.5,1117.7 195.0,1120.3 195.5,1123.1 196.0,1124.7 196.5,1120.6 197.0,1121.0 197.5,1125.9 198.0,1116.7 198.5,1127.3 199.0,1116.4 199.5,1109.1 200.0,1123.8 200.5,1125.1 201.0,1126.8 201.5,1121.8 202.0,1121.5 202.5,1122.2 203.0,1119.5 203.5,1125.7 204.0,1123.6 204.5,1127.0 205.0,1137.0 205.5,1126.6 206.0,1125.1 206.5,1118.8 207.0,1119.5 207.5,1119.8 208.0,1129.6 208.5,1124.2 209.0,1118.9 209.5,1122.6 210.0,1122.2 210.5,1128.8 211.0,1118.8 211.5,1117.1 212.0,1126.4 212.5,1114.7 213.0,1118.2 213.5,1116.0 214.0,1123.4 214.5,1133.2 215.0,1112.0 215.5,1125.5 216.0,1121.6 216.5,1126.8 217.0,1135.0 217.5,1124.8 218.0,1111.4 218.5,1106.1 219.0,1101.7 219.5,1105.8 220.0,1096.6 220.5,1126.0 221.0,1116.4 221.5,1104.4 222.0,1112.8 222.5,1108.2 223.0,1103.4 223.5,1102.0 224.0,1098.4 224.5,1097.3 224.9,1097.0 225.0,1101.5 225.5,1103.4 226.0,1099.2 226.5,1101.1 227.0,1097.6 227.5,1106.0 228.0,1105.3 228.5,1108.9 229.0,1121.6 229.5,1122.9 230.0,1115.9 230.5,1126.1 231.0,1120.8 231.5,1110.7 232.0,1117.5 232.5,1125.8 233.0,1119.9 233.5,1119.5 234.0,1108.6 234.5,1119.3 235.0,1110.4 235.5,1109.2 236.0,1107.4 236.5,1094.6 237.0,1090.3 237.5,1090.0 238.0,1082.6 238.5,1082.6 239.0,1082.3 239.5,1082.6 240.0,1084.7 240.5,1094.7 241.0,1090.0 241.5,1099.6 242.0,1105.1 242.5,1105.2 243.0,1107.0 243.5,1119.5 244.0,1114.6 244.5,1127.7 245.0,1131.3 245.5,1120.1 246.0,1126.5 246.5,1122.1 247.0,1126.4 247.5,1126.4 248.0,1124.2 248.5,1128.0 249.0,1120.1 249.5,1131.9 250.0,1132.6 250.5,1132.3 251.0,1135.3 251.5,1130.9 252.0,1128.8 252.5,1130.6 253.0,1130.9 253.5,1133.4 254.0,1129.2 254.5,1120.5 255.0,1120.7 255.5,1130.1 256.0,1130.5 256.5,1133.9 257.0,1127.9 257.5,1127.5 258.0,1133.8 258.5,1124.2 259.0,1134.4 259.5,1132.5 260.0,1136.3 260.5,1133.8 261.0,1132.4 261.5,1135.1 262.0,1131.5 262.5,1128.0 263.0,1133.5 263.5,1129.7 264.0,1128.7 264.5,1133.3 265.0,1130.6 265.5,1132.6 266.0,1132.2 266.5,1130.2 267.0,1134.2 267.5,1141.9 268.0,1139.2 268.5,1140.2 269.0,1134.5 269.5,1131.8 270.0,1128.1 270.5,1133.1 271.0,1138.8 271.5,1137.1 272.0,1135.3 272.5,1132.1 273.0,1138.7 273.5,1135.2 274.0,1138.0 274.5,1134.6 275.0,1129.7 275.5,1135.2 276.0,1126.9 276.5,1136.7 277.0,1134.4 277.5,1136.0 278.0,1136.3 278.5,1136.0 279.0,1132.2 279.5,1141.3 280.0,1141.7 280.5,1139.3 281.0,1142.7 281.5,1139.5 282.0,1145.3 282.5,1136.8 283.0,1133.8 283.5,1138.4 284.0,1139.9 284.5,1135.7 285.0,1142.9 285.5,1130.4 286.0,1128.4 286.5,1133.3 287.0,1139.1 287.5,1135.2 288.0,1135.7 288.5,1135.1 289.0,1137.2 289.5,1138.2 290.0,1139.9 290.5,1141.0 291.0,1132.9 291.5,1138.6 292.0,1134.7 292.5,1138.2 293.0,1139.1 293.5,1139.7 294.0,1132.8 294.5,1138.4 295.0,1137.6 295.5,1133.1 296.0,1135.2 296.5,1139.0 297.0,1136.7 297.5,1137.0 298.0,1134.3 298.5,1143.8 299.0,1138.8 299.5,1139.0 300.0,1141.8 300.5,1142.3 301.0,1141.3 301.5,1139.2 302.0,1140.7 302.5,1140.2 303.0,1130.0 303.5,1139.0 304.0,1130.7 304.5,1139.5 305.0,1136.2 305.5,1137.4 306.0,1141.5 306.5,1144.8 307.0,1146.3 307.5,1141.9 308.0,1139.8 308.5,1137.1 309.0,1141.1 309.5,1140.5 310.0,1136.7 310.5,1137.5 311.0,1134.3 311.5,1144.5 312.0,1140.2 312.5,1133.9 313.0,1136.7 313.5,1137.8 314.0,1140.2 314.5,1144.3 315.0,1144.1 315.5,1143.4 316.0,1139.7 316.5,1140.0 317.0,1136.9 317.5,1138.3 318.0,1137.1 318.5,1138.2 319.0,1141.5 319.5,1141.9 320.0,1145.6 320.5,1133.9 321.0,1139.7 321.5,1140.0 322.0,1143.1 322.5,1137.6 323.0,1137.2 323.5,1140.3 324.0,1138.3 324.5,1136.2 325.0,1141.3 325.5,1140.3 326.0,1147.7 326.5,1154.4 327.0,1145.5 327.5,1144.3 328.0,1138.4 328.5,1134.3 329.0,1139.7 329.5,1143.4 330.0,1135.3 330.5,1141.3 331.0,1138.9 331.5,1132.1 332.0,1138.2 332.5,1137.2 333.0,1140.9 333.5,1138.7 334.0,1133.6 334.5,1140.2 335.0,1142.1 335.5,1141.1 336.0,1144.4 336.5,1141.7 337.0,1131.7 337.5,1142.5 338.0,1135.0 338.5,1136.4 339.0,1139.6 339.5,1136.8 340.0,1137.9 340.5,1143.8 341.0,1134.6 341.5,1141.4 342.0,1143.9 342.5,1142.1 343.0,1134.9 343.5,1134.1 344.0,1138.0 344.5,1143.0 345.0,1136.3 345.5,1138.3 346.0,1138.3 346.5,1137.1 347.0,1139.1 347.5,1139.4 348.0,1139.0 348.5,1138.6 349.0,1135.1 349.5,1130.3 350.0,1126.2 350.5,1131.7 351.0,1125.5 351.5,1126.7 352.0,1128.8 352.5,1126.1 353.0,1127.0 353.5,1127.4 354.0,1124.3 354.5,1115.0 355.0,1111.5 355.5,1108.9 356.0,1101.7 356.5,1095.6 357.0,1078.9 357.5,1064.1 358.0,1044.0 358.5,1012.4 359.0,972.2 359.5,927.5 360.0,885.7 360.5,856.8 360.7,852.3 361.0,854.3 361.5,884.9 362.0,930.4 362.5,974.3 363.0,1013.7 363.5,1048.2 364.0,1068.4 364.5,1082.2 365.0,1096.5 365.5,1097.0 366.0,1107.0 366.5,1112.9 367.0,1116.5 367.5,1118.1 368.0,1121.7 368.5,1122.4 369.0,1124.5 369.5,1134.0 370.0,1128.3 370.5,1125.2 371.0,1136.0 371.5,1138.5 372.0,1126.2 372.5,1134.0 373.0,1134.3 373.5,1131.1 374.0,1131.6 374.5,1136.8 375.0,1136.0 375.5,1142.1 376.0,1137.4 376.5,1137.9 377.0,1131.9 377.5,1139.7 378.0,1136.8 378.5,1137.4 379.0,1134.3 379.5,1135.2 380.0,1135.3 380.5,1139.5 381.0,1132.3 381.5,1131.4 382.0,1136.8 382.5,1138.6 383.0,1136.2 383.5,1137.1 384.0,1131.5 384.5,1132.7 385.0,1133.6 385.5,1139.5 386.0,1137.2 386.5,1142.2 387.0,1138.4 387.5,1142.4 388.0,1141.2 388.5,1141.0 389.0,1143.4 389.5,1147.3 390.0,1150.9 390.5,1149.0 391.0,1135.5 391.5,1142.0 392.0,1140.4 392.5,1139.8 393.0,1137.0 393.5,1141.1 394.0,1146.2 394.5,1147.1 395.0,1141.8 395.5,1145.6 396.0,1134.2 396.5,1133.0 397.0,1143.1 397.5,1143.4 398.0,1151.9 398.5,1141.8 399.0,1142.1 399.5,1145.8 400.0,1144.4 400.5,1140.6 401.0,1140.8 401.5,1138.7 402.0,1139.3 402.5,1141.2 403.0,1135.3 403.5,1145.0 404.0,1141.5 404.5,1142.9 405.0,1141.0 405.5,1130.2 406.0,1129.8 406.5,1141.0 407.0,1140.4 407.5,1141.4 408.0,1137.2 408.5,1137.6 409.0,1141.1 409.5,1140.9 410.0,1135.0 410.5,1137.7 411.0,1135.5 411.5,1144.0 412.0,1140.0 412.5,1136.7 413.0,1138.4 413.5,1135.3 414.0,1137.6 414.5,1145.2 415.0,1146.4 415.5,1139.6 416.0,1138.1 416.5,1138.5 417.0,1146.5 417.5,1140.6 418.0,1141.3 418.5,1136.5 419.0,1143.6 419.5,1142.7 420.0,1134.7 420.5,1138.7 421.0,1136.2 421.5,1137.2 422.0,1137.2 422.5,1136.0 423.0,1138.0 423.5,1142.0 424.0,1144.3 424.5,1142.0 425.0,1143.0 425.5,1134.9 426.0,1142.0 426.5,1144.2 427.0,1136.2 427.5,1140.5 428.0,1140.7 428.5,1136.7 429.0,1148.7 429.5,1143.9 430.0,1136.9 430.5,1135.8 431.0,1138.3 431.5,1136.2 432.0,1132.8 432.5,1136.9 433.0,1137.5 433.5,1136.5 434.0,1133.8 434.5,1139.0 435.0,1140.9 435.5,1136.3 436.0,1142.1 436.5,1142.0 437.0,1137.3 437.5,1140.6 438.0,1144.2 438.5,1131.0 439.0,1139.2 439.5,1142.9 440.0,1139.8 440.5,1134.9 441.0,1143.9 441.5,1138.2 442.0,1140.3 442.5,1138.4 443.0,1141.9 443.5,1130.9 444.0,1134.6 444.5,1136.4 445.0,1139.0 445.5,1140.7 446.0,1143.8 446.5,1138.3 447.0,1133.9 447.5,1138.2 448.0,1135.6 448.5,1134.0 449.0,1134.0 449.5,1138.3 450.0,1143.8 450.5,1135.7 451.0,1135.9 451.5,1140.0 452.0,1139.7 452.5,1140.1 453.0,1140.9 453.5,1141.4 454.0,1137.0 454.5,1144.5 455.0,1136.5 455.5,1144.2 456.0,1139.0 456.5,1137.3 457.0,1130.9 457.5,1134.4 458.0,1132.1 458.5,1131.6 459.0,1137.1 459.5,1140.0 460.0,1142.2 460.5,1133.1 461.0,1133.6 461.5,1139.1 462.0,1134.8 462.5,1137.2 463.0,1133.8 463.5,1135.3 464.0,1134.1 464.5,1126.8 465.0,1131.0 465.5,1136.8 466.0,1142.2 466.5,1137.2 467.0,1140.0 467.5,1134.1 468.0,1132.3 468.5,1136.4 469.0,1131.9 469.5,1137.1 470.0,1136.2 470.5,1135.4 471.0,1127.3 471.5,1128.1 472.0,1126.5 472.5,1129.2 473.0,1132.8 473.5,1131.4 474.0,1131.5 474.5,1129.2 475.0,1130.3 475.5,1125.2 476.0,1127.4 476.5,1127.2 477.0,1121.9 477.5,1117.2 478.0,1113.5 478.5,1107.8 479.0,1101.5 479.5,1088.4 480.0,1075.2 480.5,1061.4 481.0,1042.2 481.5,1028.9 481.6,1028.6 482.0,1031.6 482.5,1043.7 483.0,1056.6 483.5,1071.7 484.0,1075.9 484.5,1076.0 485.0,1072.3 485.5,1067.2 486.0,1055.7 486.5,1039.6 487.0,1015.5 487.5,986.3 488.0,948.2 488.5,904.1 489.0,862.6 489.5,818.2 490.0,782.5 490.2,782.2 490.5,786.3 491.0,820.5 491.5,867.4 492.0,916.8 492.5,961.1 493.0,998.6 493.5,1031.0 494.0,1049.2 494.5,1067.6 495.0,1084.6 495.5,1092.4 496.0,1099.8 496.5,1102.2 497.0,1105.2 497.5,1114.8 498.0,1118.4 498.5,1124.2 499.0,1127.2 499.5,1122.4 500.0,1127.6 500.5,1131.4 501.0,1132.2 501.5,1134.4 502.0,1129.8 502.5,1132.4 503.0,1133.6 503.5,1134.7 504.0,1137.6 504.5,1130.5 505.0,1134.8 505.5,1128.7 506.0,1138.2 506.5,1139.9 507.0,1140.7 507.5,1137.7 508.0,1137.1 508.5,1135.8 509.0,1139.9 509.5,1150.5 510.0,1136.3 510.5,1133.9 511.0,1140.1 511.5,1138.7 512.0,1143.2 512.5,1135.1 513.0,1144.2 513.5,1136.5 514.0,1135.9 514.5,1137.6 515.0,1140.9 515.5,1140.7 516.0,1145.6 516.5,1142.7 517.0,1156.2 517.5,1146.6 518.0,1142.6 518.5,1142.4 519.0,1152.4 519.5,1142.4 520.0,1146.4 520.5,1146.9 521.0,1138.6 521.5,1143.6 522.0,1140.1 522.5,1146.3 523.0,1148.4 523.5,1148.1 524.0,1147.1 524.5,1141.3 525.0,1153.5 525.5,1151.7 526.0,1147.2 526.5,1146.2 527.0,1142.0 527.5,1143.1 528.0,1151.2 528.5,1143.9 529.0,1144.5 529.5,1151.2 530.0,1144.8 530.5,1147.3 531.0,1144.0 531.5,1140.2 532.0,1141.7 532.5,1144.4 533.0,1146.5 533.5,1149.2 534.0,1144.4 534.5,1149.8 535.0,1144.5 535.5,1146.2 536.0,1152.0 536.5,1146.0 537.0,1146.3 537.5,1147.0 538.0,1148.8 538.5,1149.9 539.0,1146.3 539.5,1151.4 540.0,1147.7 540.5,1150.7 541.0,1146.3 541.5,1145.0 542.0,1140.8 542.5,1142.0 543.0,1147.6 543.5,1143.6 544.0,1147.5 544.5,1143.2 545.0,1147.2 545.5,1142.5 546.0,1140.9 546.5,1149.7 547.0,1150.7 547.5,1148.8 548.0,1151.2 548.5,1148.8 549.0,1151.5 549.5,1148.7 550.0,1146.3 550.5,1153.1 551.0,1146.0 551.5,1154.7 552.0,1145.2 552.5,1142.4 553.0,1146.1 553.5,1148.0 554.0,1149.8 554.5,1151.6 555.0,1148.6 555.5,1144.1 556.0,1147.2 556.5,1150.4 557.0,1151.8 557.5,1143.7 558.0,1151.2 558.5,1151.2 559.0,1144.5 559.5,1156.3 560.0,1149.7 560.5,1152.1 561.0,1149.0 561.5,1152.8 562.0,1149.6 562.5,1147.9 563.0,1149.9 563.5,1147.1 564.0,1149.2 564.5,1147.7 565.0,1147.5 565.5,1140.4 566.0,1149.9 566.5,1148.4 567.0,1152.0 567.5,1147.8 568.0,1151.3 568.5,1147.9 569.0,1152.4 569.5,1149.0 570.0,1155.1 570.5,1150.2 571.0,1146.5 571.5,1147.7 572.0,1144.3 572.5,1150.0 573.0,1144.2 573.5,1149.8 574.0,1148.0 574.5,1143.9 575.0,1146.9 575.5,1147.3 576.0,1147.3 576.5,1148.6 577.0,1148.7 577.5,1147.3 578.0,1150.4 578.5,1155.5 579.0,1146.2 579.5,1151.6 580.0,1142.1 580.5,1143.3 581.0,1151.4 581.5,1152.0 582.0,1153.9 582.5,1149.7 583.0,1145.1 583.5,1147.6 584.0,1146.7 584.5,1150.9 585.0,1152.4 585.5,1154.9 586.0,1150.6 586.5,1150.6 587.0,1147.6 587.5,1148.1 588.0,1148.8 588.5,1153.2 589.0,1149.5 589.5,1150.5 590.0,1146.5 590.5,1140.1 591.0,1140.7 591.5,1145.7 592.0,1151.2 592.5,1148.1 593.0,1143.3 593.5,1147.6 594.0,1145.9 594.5,1145.7 595.0,1147.1 595.5,1147.5 596.0,1146.6 596.5,1145.9 597.0,1147.4 597.5,1147.4 598.0,1148.0 598.5,1143.4 599.0,1141.5 599.5,1144.3 600.0,1149.2 600.5,1147.8 601.0,1139.4 601.5,1137.4 602.0,1141.4 602.5,1133.3 603.0,1134.5 603.5,1136.1 604.0,1133.3 604.5,1133.3 604.6,1133.0 605.0,1136.3 605.5,1133.3 606.0,1137.9 606.5,1136.8 607.0,1134.0 607.5,1140.8 608.0,1139.3 608.5,1143.3 609.0,1141.2 609.5,1144.8 610.0,1146.9 610.5,1147.1 611.0,1153.2 611.5,1148.4 612.0,1142.4 612.5,1145.0 613.0,1146.7 613.5,1146.4 614.0,1137.4 614.5,1149.0 615.0,1153.0 615.5,1150.5 616.0,1145.9 616.5,1154.1 617.0,1152.2 617.5,1157.2 618.0,1152.5 618.5,1149.4 619.0,1145.2 619.5,1148.7 620.0,1148.8 620.5,1144.3 621.0,1141.7 621.5,1149.5 622.0,1145.8 622.5,1152.3 623.0,1144.0 623.5,1146.3 624.0,1144.7 624.5,1148.2 625.0,1149.5 625.5,1140.3 626.0,1145.1 626.5,1144.7 627.0,1145.0 627.5,1147.9 628.0,1151.0 628.5,1144.9 629.0,1148.9 629.5,1145.1 630.0,1142.7 630.5,1138.7 631.0,1142.0 631.5,1143.1 632.0,1147.3 632.5,1149.6 633.0,1149.0 633.5,1149.3 634.0,1141.8 634.5,1146.2 635.0,1142.7 635.5,1140.7 636.0,1144.7 636.5,1143.7 637.0,1147.9 637.5,1146.9 638.0,1145.6 638.5,1143.4 639.0,1147.0 639.5,1148.9 640.0,1145.4 640.5,1148.0 641.0,1144.0 641.5,1142.2 642.0,1144.0 642.5,1144.8 643.0,1143.1 643.5,1143.1 644.0,1151.8 644.5,1145.3 645.0,1144.4 645.5,1146.5 646.0,1145.4 646.5,1147.0 647.0,1151.7 647.5,1150.5 648.0,1142.4 648.5,1144.0 649.0,1145.8 649.5,1144.0 650.0,1143.0 650.5,1146.1 651.0,1147.5 651.5,1145.6 652.0,1147.4 652.5,1144.1 653.0,1142.1 653.5,1144.5 654.0,1142.7 654.5,1150.3 655.0,1146.3 655.5,1145.5 656.0,1150.6 656.5,1150.9 657.0,1150.8 657.5,1148.3 658.0,1139.6 658.5,1143.8 659.0,1144.0 659.5,1145.5 660.0,1150.6 660.5,1149.1 661.0,1148.6 661.5,1148.4 662.0,1144.9 662.5,1150.0 663.0,1142.0 663.5,1145.9 664.0,1142.0 664.5,1142.0 665.0,1150.3 665.5,1145.0 666.0,1146.7 666.5,1143.0 667.0,1143.0 667.5,1148.6 668.0,1148.1 668.5,1147.2 669.0,1148.4 669.5,1146.2 670.0,1144.8 670.5,1143.7 671.0,1147.8 671.5,1148.6 672.0,1147.1 672.5,1148.4 673.0,1139.8 673.5,1151.6 674.0,1147.3 674.5,1143.6 675.0,1141.4 675.5,1140.5 676.0,1149.6 676.5,1147.6 677.0,1146.7 677.5,1143.4 678.0,1148.4 678.5,1143.2 679.0,1144.7 679.5,1140.4 680.0,1144.2 680.5,1146.4 681.0,1142.2 681.5,1148.1 682.0,1149.5 682.5,1148.7 683.0,1147.6 683.5,1148.3 684.0,1141.9 684.5,1143.5 685.0,1144.4 685.5,1149.8 686.0,1147.4 686.5,1147.8 687.0,1146.1 687.5,1142.3 688.0,1142.4 688.5,1144.7 689.0,1148.1 689.5,1147.2 690.0,1146.1 690.5,1148.0 691.0,1150.0 691.5,1144.3 692.0,1146.0 692.5,1145.6 693.0,1148.5 693.5,1145.4 694.0,1146.2 694.5,1141.4 695.0,1144.2 695.5,1147.8 696.0,1148.3 696.5,1147.3 697.0,1153.0 697.5,1149.8 698.0,1143.2 698.5,1141.3 699.0,1141.2 699.5,1142.3 700.0,1137.8 700.5,1143.8 701.0,1140.7 701.5,1142.3 702.0,1141.2 702.5,1147.5 703.0,1146.5 703.5,1142.3 704.0,1148.0 704.5,1140.1 705.0,1143.3 705.5,1141.7 706.0,1149.2 706.5,1150.2 707.0,1144.9 707.5,1135.1 708.0,1144.5 708.5,1149.8 709.0,1143.7 709.5,1145.6 710.0,1146.1 710.5,1143.8 711.0,1139.5 711.5,1142.1 712.0,1142.5 712.5,1147.7 713.0,1140.9 713.5,1146.0 714.0,1144.2 714.5,1139.0 715.0,1142.7 715.5,1147.7 716.0,1147.8 716.5,1145.5 717.0,1152.1 717.5,1140.4 718.0,1136.4 718.5,1142.0 719.0,1141.1 719.5,1135.3 720.0,1145.9 720.5,1140.6 721.0,1141.2 721.5,1150.9 722.0,1144.9 722.5,1142.5 723.0,1144.1 723.5,1145.7 724.0,1138.3 724.5,1139.1 725.0,1138.4 725.5,1145.0 726.0,1145.6 726.5,1145.9 727.0,1138.1 727.5,1145.0 728.0,1148.9 728.5,1138.3 729.0,1144.7 729.5,1135.9 730.0,1139.7 730.5,1138.3 731.0,1144.2 731.5,1141.2 732.0,1135.4 732.5,1138.4 733.0,1130.8 733.5,1136.4 734.0,1130.1 734.5,1134.6 735.0,1133.4 735.5,1125.1 736.0,1125.5 736.5,1115.7 737.0,1103.5 737.5,1093.1 738.0,1080.9 738.5,1064.6 739.0,1048.3 739.5,1033.4 740.0,1022.6 740.2,1021.7 740.5,1023.5 741.0,1035.5 741.5,1052.5 742.0,1067.7 742.5,1084.2 743.0,1099.6 743.5,1105.9 744.0,1116.4 744.5,1118.6 745.0,1124.2 745.5,1128.1 746.0,1131.9 746.5,1135.5 747.0,1131.5 747.5,1138.3 748.0,1138.3 748.5,1136.4 749.0,1131.5 749.5,1132.2 750.0,1136.4 750.5,1139.1 751.0,1132.3 751.5,1136.4 752.0,1135.4 752.5,1128.9 753.0,1129.4 753.5,1123.7 754.0,1117.9 754.5,1119.3 755.0,1104.4 755.5,1094.9 756.0,1088.0 756.5,1088.1 756.6,1085.7 757.0,1087.9 757.5,1093.0 758.0,1103.4 758.5,1111.9 759.0,1120.6 759.5,1120.3 760.0,1131.2 760.5,1135.7 761.0,1134.2 761.5,1136.7 762.0,1138.9 762.5,1134.7 763.0,1138.2 763.5,1137.4 764.0,1144.1 764.5,1141.0 765.0,1143.2 765.5,1147.9 766.0,1137.7 766.5,1143.5 767.0,1138.6 767.5,1142.5 768.0,1140.2 768.5,1141.2 769.0,1129.6 769.5,1134.4 770.0,1129.6 770.5,1130.3 771.0,1129.6 771.4,1129.3 771.5,1130.4 772.0,1132.0 772.5,1136.7 773.0,1139.8 773.5,1139.4 774.0,1142.8 774.5,1138.4 775.0,1137.7 775.5,1143.9 776.0,1140.3 776.5,1139.7 777.0,1138.7 777.5,1136.1 778.0,1136.9 778.5,1142.9 779.0,1138.7 779.5,1140.0 780.0,1140.7 780.5,1138.1 781.0,1133.7 781.5,1130.6 782.0,1129.3 782.5,1126.6 783.0,1118.0 783.5,1112.0 784.0,1105.8 784.5,1098.3 785.0,1089.7 785.5,1079.7 786.0,1073.2 786.5,1066.7 786.7,1066.5 787.0,1069.7 787.5,1071.8 788.0,1079.0 788.5,1092.4 789.0,1100.5 789.5,1109.1 790.0,1113.4 790.5,1115.1 791.0,1125.6 791.5,1125.8 792.0,1133.6 792.5,1138.3 793.0,1136.6 793.5,1143.6 794.0,1142.4 794.5,1145.5 795.0,1142.5 795.5,1140.7 796.0,1139.5 796.5,1144.9 797.0,1143.1 797.5,1148.8 798.0,1146.2 798.5,1146.6 799.0,1140.5 799.5,1145.4 800.0,1147.4 800.5,1144.4 801.0,1146.4 801.5,1142.0 802.0,1145.1 802.5,1145.8 803.0,1144.9 803.5,1147.4 804.0,1138.4 804.5,1149.7 805.0,1143.6 805.5,1141.3 806.0,1146.7 806.5,1144.2 807.0,1147.9 807.5,1139.2 808.0,1147.6 808.5,1149.1 809.0,1143.5 809.5,1151.9 810.0,1144.2 810.5,1145.2 811.0,1143.4 811.5,1144.6 812.0,1144.1 812.5,1143.0 813.0,1144.8 813.5,1143.9 814.0,1143.9 814.5,1138.7 815.0,1141.2 815.5,1139.1 816.0,1140.5 816.5,1138.3 817.0,1137.3 817.5,1133.3 818.0,1138.6 818.5,1129.1 819.0,1130.6 819.5,1123.5 820.0,1120.0 820.5,1112.9 821.0,1102.2 821.5,1090.3 822.0,1074.6 822.5,1058.9 823.0,1045.3 823.5,1032.8 824.0,1028.7 824.5,1033.7 825.0,1044.1 825.5,1059.1 826.0,1077.2 826.5,1091.8 827.0,1101.5 827.5,1109.4 828.0,1115.8 828.5,1124.8 829.0,1129.4 829.5,1129.1 830.0,1137.4 830.5,1134.8 831.0,1138.3 831.5,1137.1 832.0,1138.7 832.5,1137.8 833.0,1138.6 833.5,1129.3 834.0,1136.9 834.5,1133.2 835.0,1129.0 835.5,1129.3 836.0,1132.2 836.5,1137.6 837.0,1142.8 837.5,1142.4 838.0,1143.0 838.5,1148.4 839.0,1145.3 839.5,1144.7 840.0,1151.7 840.5,1150.8 841.0,1150.5 841.5,1152.7 842.0,1149.6 842.5,1144.2 843.0,1151.5 843.5,1155.1 844.0,1149.3 844.5,1150.6 845.0,1149.1 845.5,1145.4 846.0,1151.2 846.5,1149.2 847.0,1144.1 847.5,1152.8 848.0,1146.9 848.5,1151.7 849.0,1153.3 849.5,1149.9 850.0,1147.6 850.5,1149.8 851.0,1150.9 851.5,1152.8 852.0,1147.7 852.5,1149.1 853.0,1152.0 853.5,1154.6 854.0,1148.7 854.5,1145.9 855.0,1150.2 855.5,1146.3 856.0,1146.0 856.5,1151.5 857.0,1140.4 857.5,1141.4 858.0,1137.0 858.5,1137.9 859.0,1140.1 859.5,1146.8 860.0,1147.3 860.5,1145.5 861.0,1148.5 861.5,1154.1 862.0,1153.0 862.5,1147.8 863.0,1151.4 863.5,1152.1 864.0,1150.8 864.5,1152.1 865.0,1152.6 865.5,1151.7 866.0,1154.0 866.5,1157.6 867.0,1151.1 867.5,1148.7 868.0,1153.7 868.5,1153.8 869.0,1153.1 869.5,1153.0 870.0,1148.7 870.5,1150.1 871.0,1153.0 871.5,1156.4 872.0,1148.7 872.5,1150.9 873.0,1148.7 873.5,1155.6 874.0,1147.4 874.5,1155.1 875.0,1150.3 875.5,1143.0 876.0,1149.0 876.5,1150.8 877.0,1151.6 877.5,1151.3 878.0,1148.5 878.5,1146.5 879.0,1144.1 879.5,1136.6 880.0,1138.1 880.5,1130.1 881.0,1131.8 881.5,1123.2 882.0,1111.0 882.5,1108.4 883.0,1097.7 883.5,1088.4 884.0,1087.4 884.5,1089.6 885.0,1100.7 885.5,1109.3 886.0,1117.2 886.5,1124.3 887.0,1127.3 887.5,1134.9 888.0,1140.4 888.5,1144.6 889.0,1145.6 889.5,1145.0 890.0,1140.4 890.5,1144.8 891.0,1147.5 891.5,1142.0 892.0,1151.4 892.5,1149.8 893.0,1150.1 893.5,1149.2 894.0,1151.7 894.5,1150.1 895.0,1150.1 895.5,1148.1 896.0,1156.1 896.5,1148.1 897.0,1153.3 897.5,1153.7 898.0,1153.2 898.5,1146.6 899.0,1148.6 899.5,1146.8 900.0,1154.4 900.5,1153.4 901.0,1152.4 901.5,1150.0 902.0,1151.9 902.5,1155.5 903.0,1157.9 903.5,1153.2 904.0,1154.9 904.5,1154.4 905.0,1154.6 905.5,1151.0 906.0,1153.9 906.5,1152.0 907.0,1155.1 907.5,1143.1 908.0,1141.9 908.5,1145.5 909.0,1147.5 909.5,1147.1 910.0,1151.0 910.5,1153.2 911.0,1154.9 911.5,1154.6 912.0,1151.4 912.5,1152.9 913.0,1150.5 913.5,1148.5 914.0,1151.9 914.5,1156.2 915.0,1156.0 915.5,1148.5 916.0,1154.6 916.5,1154.4 917.0,1151.2 917.5,1148.9 918.0,1146.9 918.5,1148.8 919.0,1155.9 919.5,1150.1 920.0,1149.6 920.5,1149.5 921.0,1150.5 921.5,1154.1 922.0,1152.5 922.5,1153.9 923.0,1149.3 923.5,1148.1 924.0,1146.6 924.5,1149.8 925.0,1153.1 925.5,1153.7 926.0,1154.9 926.5,1148.4 927.0,1147.5 927.5,1148.3 928.0,1147.0 928.5,1151.9 929.0,1154.1 929.5,1148.2 930.0,1149.6 930.5,1143.2 931.0,1148.5 931.5,1150.1 932.0,1148.5 932.5,1154.7 933.0,1149.2 933.5,1151.3 934.0,1155.1 934.5,1146.5 935.0,1152.1 935.5,1149.5 936.0,1153.2 936.5,1150.0 937.0,1152.0 937.5,1153.1 938.0,1155.7 938.5,1149.5 939.0,1147.4 939.5,1147.8 940.0,1154.1 940.5,1147.6 941.0,1147.6 941.5,1146.5 942.0,1146.5 942.5,1149.3 943.0,1147.6 943.5,1142.3 944.0,1153.1 944.5,1150.3 945.0,1146.4 945.5,1145.3 946.0,1146.7 946.5,1145.2 947.0,1147.0 947.5,1149.9 948.0,1148.5 948.5,1151.9 949.0,1147.2 949.5,1143.9 950.0,1147.4 950.5,1146.2 951.0,1141.2 951.5,1143.0 952.0,1148.1 952.5,1141.3 953.0,1141.1 953.5,1138.6 954.0,1143.8 954.5,1145.0 955.0,1132.7 955.5,1131.4 956.0,1133.1 956.5,1130.4 957.0,1124.0 957.5,1114.7 958.0,1105.9 958.5,1097.7 959.0,1086.7 959.5,1072.8 960.0,1060.9 960.5,1046.3 961.0,1043.9 961.5,1048.4 962.0,1059.7 962.5,1070.3 963.0,1087.2 963.5,1096.4 964.0,1110.0 964.5,1113.4 965.0,1121.7 965.5,1130.8 966.0,1128.6 966.5,1131.2 967.0,1135.2 967.5,1137.7 968.0,1144.8 968.5,1143.3 969.0,1142.5 969.5,1143.3 970.0,1140.7 970.5,1142.3 971.0,1146.8 971.5,1147.2 972.0,1147.6 972.5,1151.6 973.0,1147.9 973.5,1148.7 974.0,1149.0 974.5,1148.4 975.0,1150.3 975.5,1144.3 976.0,1147.9 976.5,1150.3 977.0,1149.0 977.5,1147.2 978.0,1149.1 978.5,1151.0 979.0,1148.2 979.5,1148.1 980.0,1148.0 980.5,1151.9 981.0,1151.2 981.5,1153.3 982.0,1153.1 982.5,1150.3 983.0,1144.8 983.5,1146.9 984.0,1147.2 984.5,1145.3 985.0,1147.8 985.5,1144.0 986.0,1143.5 986.5,1134.6 987.0,1131.3 987.5,1131.0 988.0,1131.3 988.5,1140.3 989.0,1139.3 989.5,1147.1 990.0,1147.3 990.5,1147.3 991.0,1147.6 991.5,1148.5 992.0,1150.6 992.5,1153.5 993.0,1152.4 993.5,1155.7 994.0,1151.2 994.5,1151.3 995.0,1149.8 995.5,1147.7 996.0,1153.7 996.5,1149.8 997.0,1151.8 997.5,1151.0 998.0,1151.0 998.5,1157.2 999.0,1148.4 999.5,1144.7 1000.0,1149.4 1000.5,1154.8 1001.0,1150.7 1001.5,1148.2 1002.0,1152.5 1002.5,1150.6 1003.0,1147.2 1003.5,1151.7 1004.0,1147.2 1004.5,1149.6 1005.0,1155.0 1005.5,1146.8 1006.0,1158.5 1006.5,1147.8 1007.0,1153.0 1007.5,1147.4 1008.0,1150.9 1008.5,1149.8 1009.0,1151.3 1009.5,1151.4 1010.0,1158.9 1010.5,1158.1 1011.0,1151.0 1011.5,1148.7 1012.0,1152.2 1012.5,1147.9 1013.0,1158.7 1013.5,1159.7 1014.0,1156.8 1014.5,1146.5 1015.0,1149.0 1015.5,1154.3 1016.0,1148.4 1016.5,1153.8 1017.0,1152.1 1017.5,1153.0 1018.0,1149.4 1018.5,1149.5 1019.0,1148.3 1019.5,1153.0 1020.0,1151.6 1020.5,1156.0 1021.0,1146.3 1021.5,1151.6 1022.0,1152.9 1022.5,1151.0 1023.0,1146.3 1023.5,1147.8 1024.0,1150.4 1024.5,1149.3 1025.0,1148.2 1025.5,1147.4 1026.0,1143.1 1026.5,1139.7 1027.0,1137.3 1027.5,1137.0 1028.0,1137.3 1028.5,1139.5 1029.0,1140.5 1029.5,1147.9 1030.0,1146.0 1030.5,1142.3 1031.0,1148.7 1031.5,1132.3 1032.0,1137.6 1032.5,1133.9 1032.7,1132.0 1033.0,1132.3 1033.5,1137.2 1034.0,1140.0 1034.5,1144.4 1035.0,1146.3 1035.5,1146.1 1036.0,1146.0 1036.5,1150.0 1037.0,1150.3 1037.5,1148.6 1038.0,1150.8 1038.5,1146.9 1039.0,1148.8 1039.5,1146.3 1040.0,1142.9 1040.5,1148.3 1041.0,1142.9 1041.5,1141.6 1042.0,1138.7 1042.5,1144.9 1043.0,1145.6 1043.5,1146.0 1044.0,1144.0 1044.5,1142.2 1045.0,1134.6 1045.5,1131.8 1046.0,1128.3 1046.5,1124.9 1047.0,1126.1 1047.5,1117.8 1048.0,1114.2 1048.5,1109.0 1049.0,1102.2 1049.5,1102.1 1049.8,1098.6 1050.0,1098.9 1050.5,1099.3 1051.0,1104.2 1051.5,1103.2 1052.0,1110.5 1052.5,1113.1 1053.0,1119.0 1053.5,1122.3 1054.0,1118.9 1054.5,1119.9 1055.0,1122.6 1055.5,1121.8 1056.0,1120.6 1056.5,1121.2 1057.0,1119.7 1057.5,1118.9 1058.0,1113.9 1058.5,1117.4 1059.0,1122.2 1059.5,1119.1 1060.0,1122.1 1060.5,1127.0 1061.0,1130.9 1061.5,1136.0 1062.0,1137.9 1062.5,1133.6 1063.0,1139.4 1063.5,1145.2 1064.0,1145.9 1064.5,1144.6 1065.0,1141.1 1065.5,1145.0 1066.0,1144.3 1066.5,1146.0 1067.0,1146.4 1067.5,1142.6 1068.0,1150.3 1068.5,1145.3 1069.0,1147.4 1069.5,1147.7 1070.0,1147.3 1070.5,1147.3 1071.0,1150.5 1071.5,1145.6 1072.0,1148.0 1072.5,1150.4 1073.0,1148.4 1073.5,1147.7 1074.0,1151.8 1074.5,1152.8 1075.0,1150.9 1075.5,1145.4 1076.0,1149.3 1076.5,1148.2 1077.0,1153.4 1077.5,1151.8 1078.0,1152.3 1078.5,1155.7 1079.0,1146.5 1079.5,1149.5 1080.0,1151.0 1080.5,1151.0 1081.0,1152.1 1081.5,1151.3 1082.0,1156.8 1082.5,1151.0 1083.0,1148.3 1083.5,1152.6 1084.0,1152.3 1084.5,1149.3 1085.0,1150.5 1085.5,1150.1 1086.0,1151.6 1086.5,1150.3 1087.0,1150.5 1087.5,1149.3 1088.0,1153.9 1088.5,1150.1 1089.0,1148.9 1089.5,1150.6 1090.0,1148.2 1090.5,1150.0 1091.0,1153.4 1091.5,1152.8 1092.0,1150.6 1092.5,1152.6 1093.0,1152.7 1093.5,1154.7 1094.0,1153.3 1094.5,1150.2 1095.0,1152.4 1095.5,1155.5 1096.0,1159.2 1096.5,1153.0 1097.0,1154.5 1097.5,1151.3 1098.0,1147.0 1098.5,1149.6 1099.0,1150.3 1099.5,1146.8 1100.0,1153.5 1100.5,1143.6 1101.0,1148.2 1101.5,1145.7 1102.0,1143.7 1102.5,1144.5 1103.0,1145.7 1103.5,1147.6 1104.0,1146.6 1104.5,1146.3 1105.0,1143.3 1105.5,1138.7 1106.0,1136.9 1106.5,1141.9 1107.0,1138.2 1107.5,1140.4 1108.0,1142.8 1108.5,1144.1 1109.0,1143.8 1109.5,1146.9 1110.0,1147.4 1110.5,1148.0 1111.0,1146.5 1111.5,1144.1 1112.0,1143.8 1112.5,1143.4 1113.0,1146.3 1113.5,1147.5 1114.0,1145.3 1114.5,1148.2 1115.0,1154.8 1115.5,1145.7 1116.0,1154.3 1116.5,1149.7 1117.0,1147.7 1117.5,1148.7 1118.0,1150.2 1118.5,1156.3 1119.0,1153.5 1119.5,1155.2 1120.0,1148.7 1120.5,1156.3 1121.0,1152.8 1121.5,1154.4 1122.0,1148.6 1122.5,1151.1 1123.0,1150.3 1123.5,1151.8 1124.0,1153.9 1124.5,1152.7 1125.0,1152.4 1125.5,1148.7 1126.0,1152.5 1126.5,1146.1 1127.0,1147.0 1127.5,1146.2 1128.0,1143.3 1128.5,1156.0 1129.0,1157.4 1129.5,1150.4 1130.0,1148.7 1130.5,1146.8 1131.0,1151.0 1131.5,1152.9 1132.0,1149.5 1132.5,1152.0 1133.0,1149.8 1133.5,1153.6 1134.0,1156.6 1134.5,1153.1 1135.0,1149.8 1135.5,1147.6 1136.0,1154.5 1136.5,1150.7 1137.0,1147.2 1137.5,1151.6 1138.0,1145.8 1138.5,1151.7 1139.0,1149.2 1139.5,1152.4 1140.0,1152.1 1140.5,1148.3 1141.0,1149.4 1141.5,1151.7 1142.0,1148.0 1142.5,1149.9 1143.0,1153.3 1143.5,1146.3 1144.0,1151.2 1144.5,1158.4 1145.0,1151.0 1145.5,1155.8 1146.0,1146.8 1146.5,1148.3 1147.0,1154.3 1147.5,1149.8 1148.0,1146.1 1148.5,1147.1 1149.0,1149.9 1149.5,1152.8 1150.0,1145.7 1150.5,1146.1 1151.0,1146.8 1151.5,1138.3 1152.0,1138.9 1152.5,1133.1 1153.0,1133.0 1153.5,1135.6 1154.0,1137.3 1154.5,1140.9 1155.0,1145.8 1155.5,1138.8 1156.0,1144.2 1156.5,1145.2 1157.0,1147.0 1157.5,1153.5 1158.0,1152.2 1158.5,1151.5 1159.0,1151.4 1159.5,1150.2 1160.0,1156.6 1160.5,1152.0 1161.0,1153.8 1161.5,1150.8 1162.0,1150.5 1162.5,1146.6 1163.0,1153.7 1163.5,1154.6 1164.0,1150.9 1164.5,1147.2 1165.0,1145.8 1165.5,1149.2 1166.0,1152.0 1166.5,1147.3 1167.0,1141.5 1167.5,1146.8 1168.0,1146.7 1168.5,1144.3 1169.0,1138.5 1169.5,1136.1 1170.0,1132.7 1170.5,1128.5 1171.0,1127.9 1171.5,1126.0 1172.0,1126.0 1172.5,1125.7 1173.0,1129.0 1173.5,1127.9 1174.0,1132.1 1174.5,1132.4 1175.0,1128.8 1175.5,1140.2 1176.0,1138.3 1176.5,1142.9 1177.0,1142.1 1177.5,1142.4 1178.0,1144.7 1178.5,1143.0 1179.0,1150.5 1179.5,1148.2 1180.0,1148.7 1180.5,1154.4 1181.0,1149.3 1181.5,1153.1 1182.0,1152.6 1182.5,1152.4 1183.0,1153.6 1183.5,1148.5 1184.0,1156.3 1184.5,1157.3 1185.0,1152.8 1185.5,1151.0 1186.0,1146.3 1186.5,1153.9 1187.0,1153.2 1187.5,1155.9 1188.0,1154.9 1188.5,1155.0 1189.0,1154.0 1189.5,1152.5 1190.0,1152.2 1190.5,1150.8 1191.0,1156.8 1191.5,1159.1 1192.0,1145.6 1192.5,1150.5 1193.0,1148.5 1193.5,1147.5 1194.0,1152.5 1194.5,1143.7 1195.0,1154.5 1195.5,1146.8 1196.0,1153.5 1196.5,1152.4 1197.0,1150.6 1197.5,1149.5 1198.0,1147.2 1198.5,1155.9 1199.0,1147.7 1199.5,1146.9 1200.0,1149.8 1200.5,1149.4 1201.0,1152.6 1201.5,1150.2 1202.0,1149.0 1202.5,1148.2 1203.0,1146.2 1203.5,1149.7 1204.0,1153.3 1204.5,1152.2 1205.0,1151.3 1205.5,1153.4 1206.0,1148.5 1206.5,1150.8 1207.0,1152.1 1207.5,1149.5 1208.0,1155.5 1208.5,1153.1 1209.0,1156.2 1209.5,1149.8 1210.0,1149.9 1210.5,1150.0 1211.0,1154.6 1211.5,1156.8 1212.0,1150.2 1212.5,1148.1 1213.0,1148.6 1213.5,1150.8 1214.0,1152.1 1214.5,1151.5 1215.0,1154.8 1215.5,1154.6 1216.0,1152.5 1216.5,1148.0 1217.0,1146.6 1217.5,1147.6 1218.0,1154.0 1218.5,1150.7 1219.0,1152.1 1219.5,1153.6 1220.0,1149.1 1220.5,1154.0 1221.0,1149.4 1221.5,1146.1 1222.0,1149.5 1222.5,1150.2 1223.0,1153.4 1223.5,1151.1 1224.0,1146.8 1224.5,1152.0 1225.0,1152.5 1225.5,1155.1 1226.0,1149.1 1226.5,1152.0 1227.0,1151.6 1227.5,1155.2 1228.0,1158.0 1228.5,1156.4 1229.0,1152.0 1229.5,1144.9 1230.0,1147.8 1230.5,1150.2 1231.0,1154.4 1231.5,1156.1 1232.0,1154.3 1232.5,1152.8 1233.0,1155.3 1233.5,1150.5 1234.0,1151.0 1234.5,1155.1 1235.0,1153.1 1235.5,1155.1 1236.0,1154.2 1236.5,1153.4 1237.0,1149.9 1237.5,1150.3 1238.0,1150.7 1238.5,1154.9 1239.0,1155.1 1239.5,1151.2 1240.0,1154.2 1240.5,1149.8 1241.0,1153.9 1241.5,1147.7 1242.0,1153.7 1242.5,1147.5 1243.0,1147.0 1243.5,1146.4 1244.0,1149.3 1244.5,1148.7 1245.0,1147.4 1245.5,1154.0 1246.0,1148.9 1246.5,1142.4 1247.0,1146.1 1247.5,1144.4 1248.0,1143.1 1248.5,1140.4 1249.0,1134.3 1249.5,1138.5 1250.0,1133.2 1250.5,1128.8 1251.0,1126.1 1251.5,1121.0 1252.0,1119.9 1252.3,1119.6 1252.5,1122.1 1253.0,1120.3 1253.5,1123.2 1254.0,1124.0 1254.5,1130.6 1255.0,1131.7 1255.5,1138.0 1256.0,1137.3 1256.5,1136.2 1257.0,1143.9 1257.5,1144.1 1258.0,1141.7 1258.5,1145.0 1259.0,1148.1 1259.5,1153.2 1260.0,1150.5 1260.5,1149.4 1261.0,1153.0 1261.5,1146.8 1262.0,1147.9 1262.5,1150.1 1263.0,1147.0 1263.5,1152.7 1264.0,1151.2 1264.5,1147.9 1265.0,1151.0 1265.5,1146.9 1266.0,1151.7 1266.5,1151.6 1267.0,1148.4 1267.5,1152.3 1268.0,1152.1 1268.5,1148.5 1269.0,1146.4 1269.5,1147.1 1270.0,1151.4 1270.5,1147.7 1271.0,1154.6 1271.5,1160.0 1272.0,1155.0 1272.5,1151.5 1273.0,1146.7 1273.5,1141.4 1274.0,1150.5 1274.5,1151.5 1275.0,1148.9 1275.5,1148.4 1276.0,1154.5 1276.5,1152.0 1277.0,1152.4 1277.5,1150.8 1278.0,1154.2 1278.5,1148.6 1279.0,1147.3 1279.5,1146.2 1280.0,1152.1 1280.5,1146.6 1281.0,1154.5 1281.5,1151.9 1282.0,1152.3 1282.5,1144.2 1283.0,1148.8 1283.5,1151.5 1284.0,1156.2 1284.5,1151.2 1285.0,1151.3 1285.5,1150.8 1286.0,1151.9 1286.5,1151.1 1287.0,1150.3 1287.5,1149.9 1288.0,1149.8 1288.5,1151.2 1289.0,1151.6 1289.5,1152.0 1290.0,1149.3 1290.5,1148.4 1291.0,1151.8 1291.5,1148.1 1292.0,1146.4 1292.5,1150.1 1293.0,1151.5 1293.5,1152.5 1294.0,1150.3 1294.5,1147.9 1295.0,1150.9 1295.5,1152.2 1296.0,1149.8 1296.5,1147.9 1297.0,1150.1 1297.5,1146.9 1298.0,1145.3 1298.5,1146.9 1299.0,1150.7 1299.5,1153.1 1300.0,1145.9 1300.5,1149.6 1301.0,1149.3 1301.5,1149.0 1302.0,1153.3 1302.5,1150.7 1303.0,1144.0 1303.5,1150.1 1304.0,1150.5 1304.5,1152.6 1305.0,1150.1 1305.5,1144.3 1306.0,1140.9 1306.5,1147.5 1307.0,1147.2 1307.5,1141.8 1308.0,1140.3 1308.5,1144.6 1309.0,1145.1 1309.5,1137.7 1310.0,1139.0 1310.5,1137.0 1311.0,1136.3 1311.5,1142.8 1312.0,1135.4 1312.5,1135.8 1313.0,1129.8 1313.5,1129.6 1314.0,1127.6 1314.5,1125.2 1315.0,1123.7 1315.5,1120.4 1316.0,1117.3 1316.5,1116.5 1317.0,1113.8 1317.1,1113.5 1317.5,1113.8 1318.0,1116.9 1318.5,1122.1 1319.0,1119.5 1319.5,1120.3 1320.0,1122.9 1320.5,1125.0 1321.0,1130.2 1321.5,1134.4 1322.0,1137.2 1322.5,1136.3 1323.0,1139.4 1323.5,1142.3 1324.0,1139.0 1324.5,1140.0 1325.0,1143.3 1325.5,1144.4 1326.0,1144.8 1326.5,1145.2 1327.0,1143.4 1327.5,1143.4 1328.0,1147.5 1328.5,1146.3 1329.0,1144.9 1329.5,1148.3 1330.0,1148.0 1330.5,1150.2 1331.0,1145.3 1331.5,1148.6 1332.0,1153.0 1332.5,1148.1 1333.0,1146.9 1333.5,1147.0 1334.0,1147.9 1334.5,1150.6 1335.0,1150.8 1335.5,1146.5 1336.0,1148.3 1336.5,1143.9 1337.0,1147.4 1337.5,1152.8 1338.0,1154.1 1338.5,1154.1 1339.0,1153.2 1339.5,1152.3 1340.0,1145.3 1340.5,1149.0 1341.0,1150.5 1341.5,1151.3 1342.0,1151.8 1342.5,1152.7 1343.0,1148.0 1343.5,1145.1 1344.0,1150.7 1344.5,1154.9 1345.0,1155.0 1345.5,1149.5 1346.0,1153.3 1346.5,1149.4 1347.0,1152.1 1347.5,1142.0 1348.0,1151.5 1348.5,1152.1 1349.0,1152.9 1349.5,1150.4 1350.0,1147.7 1350.5,1148.4 1351.0,1148.0 1351.5,1147.3 1352.0,1153.5 1352.5,1148.4 1353.0,1146.4 1353.5,1152.1 1354.0,1149.0 1354.5,1149.5 1355.0,1151.2 1355.5,1148.4 1356.0,1149.8 1356.5,1150.0 1357.0,1155.6 1357.5,1153.4 1358.0,1156.1 1358.5,1152.3 1359.0,1153.9 1359.5,1149.6 1360.0,1148.4 1360.5,1153.3 1361.0,1155.9 1361.5,1152.4 1362.0,1152.6 1362.5,1150.3 1363.0,1152.0 1363.5,1149.9 1364.0,1152.7 1364.5,1150.5 1365.0,1152.6 1365.5,1149.6 1366.0,1149.6 1366.5,1149.6 1367.0,1149.5 1367.5,1152.7 1368.0,1156.8 1368.5,1155.8 1369.0,1149.8 1369.5,1152.2 1370.0,1148.6 1370.5,1154.1 1371.0,1152.9 1371.5,1152.9 1372.0,1154.0 1372.5,1150.9 1373.0,1152.3 1373.5,1150.6 1374.0,1147.9 1374.5,1153.4 1375.0,1147.9 1375.5,1153.1 1376.0,1148.7 1376.5,1157.8 1377.0,1151.7 1377.5,1151.3 1378.0,1156.1 1378.5,1151.6 1379.0,1155.1 1379.5,1149.0 1380.0,1153.2 1380.5,1151.0 1381.0,1151.0 1381.5,1146.6 1382.0,1150.6 1382.5,1150.1 1383.0,1147.8 1383.5,1146.8 1384.0,1150.7 1384.5,1151.9 1385.0,1155.0 1385.5,1155.2 1386.0,1150.6 1386.5,1151.2 1387.0,1151.1 1387.5,1149.3 1388.0,1152.4 1388.5,1152.8 1389.0,1153.5 1389.5,1154.4 1390.0,1145.8 1390.5,1153.2 1391.0,1149.6 1391.5,1153.4 1392.0,1148.7 1392.5,1153.2 1393.0,1157.3 1393.5,1150.2 1394.0,1152.2 1394.5,1147.8 1395.0,1148.5 1395.5,1152.1 1396.0,1148.6 1396.5,1150.4 1397.0,1147.9 1397.5,1151.2 1398.0,1151.3 1398.5,1149.6 1399.0,1151.3 1399.5,1144.4 1400.0,1151.1 1400.5,1152.0 1401.0,1147.5 1401.5,1147.4 1402.0,1149.2 1402.5,1152.7 1403.0,1151.7 1403.5,1149.5 1404.0,1153.0 1404.5,1150.0 1405.0,1148.2 1405.5,1154.0 1406.0,1153.1 1406.5,1148.9 1407.0,1149.4 1407.5,1150.4 1408.0,1149.8 1408.5,1149.9 1409.0,1149.4 1409.5,1152.8 1410.0,1155.8 1410.5,1151.9 1411.0,1153.0 1411.5,1149.5 1412.0,1151.1 1412.5,1152.1 1413.0,1150.3 1413.5,1149.4 1414.0,1147.7 1414.5,1152.5 1415.0,1150.6 1415.5,1148.5 1416.0,1152.4 1416.5,1158.4 1417.0,1154.5 1417.5,1155.4 1418.0,1156.6 1418.5,1156.5 1419.0,1151.1 1419.5,1150.4 1420.0,1150.7 1420.5,1157.3 1421.0,1153.8 1421.5,1152.6 1422.0,1150.0 1422.5,1150.1 1423.0,1150.6 1423.5,1155.6 1424.0,1157.4 1424.5,1150.6 1425.0,1154.9 1425.5,1147.3 1426.0,1146.7 1426.5,1150.7 1427.0,1151.2 1427.5,1151.7 1428.0,1147.5 1428.5,1147.2 1429.0,1153.0 1429.5,1144.2 1430.0,1152.1 1430.5,1150.5 1431.0,1146.2 1431.5,1146.6 1432.0,1154.2 1432.5,1145.4 1433.0,1151.9 1433.5,1149.3 1434.0,1151.1 1434.5,1150.8 1435.0,1150.2 1435.5,1151.4 1436.0,1153.4 1436.5,1152.7 1437.0,1146.0 1437.5,1147.3 1438.0,1152.6 1438.5,1148.8 1439.0,1151.8 1439.5,1151.5 1440.0,1141.5 1440.5,1153.4 1441.0,1151.6 1441.5,1152.0 1442.0,1153.6 1442.5,1152.3 1443.0,1151.8 1443.5,1148.2 1444.0,1150.7 1444.5,1149.8 1445.0,1149.9 1445.5,1151.0 1446.0,1151.6 1446.5,1151.2 1447.0,1149.5 1447.5,1148.4 1448.0,1149.4 1448.5,1149.4 1449.0,1149.8 1449.5,1152.2 1450.0,1151.3 1450.5,1147.2 1451.0,1147.9 1451.5,1144.5 1452.0,1147.7 1452.5,1150.1 1453.0,1150.6 1453.5,1150.6 1454.0,1153.4 1454.5,1152.4 1455.0,1150.5 1455.5,1156.3 1456.0,1156.6 1456.5,1158.7 1457.0,1149.7 1457.5,1147.9 1458.0,1150.0"/>
<polyline fill="none" stroke="#ff8000" stroke-width="4.0" stroke-linejoin="round" stroke-linecap="butt" points="63.0,1796.3 63.5,1795.2 64.0,1793.5 64.5,1794.1 65.0,1795.0 65.5,1794.8 66.0,1794.7 66.5,1794.8 67.0,1795.0 67.5,1795.6 68.0,1795.1 68.5,1795.5 69.0,1791.7 69.5,1793.3 70.0,1795.2 70.5,1793.6 71.0,1793.0 71.5,1796.2 72.0,1795.7 72.5,1793.9 73.0,1793.3 73.5,1793.8 74.0,1794.2 74.5,1795.0 75.0,1794.9 75.5,1795.4 76.0,1794.5 76.5,1793.7 77.0,1794.4 77.5,1795.4 78.0,1794.2 78.5,1792.4 79.0,1795.3 79.5,1794.8 80.0,1794.7 80.5,1794.6 81.0,1794.8 81.5,1795.4 82.0,1794.0 82.5,1794.4 83.0,1793.6 83.5,1795.2 84.0,1794.7 84.5,1793.3 85.0,1794.1 85.5,1793.6 86.0,1794.4 86.5,1794.1 87.0,1796.0 87.5,1794.8 88.0,1795.9 88.5,1794.4 89.0,1795.5 89.5,1793.8 90.0,1794.2 90.5,1795.0 91.0,1792.7 91.5,1793.2 92.0,1795.4 92.5,1793.2 93.0,1794.3 93.5,1794.9 94.0,1795.7 94.5,1794.6 95.0,1795.3 95.5,1794.1 96.0,1793.9 96.5,1795.2 97.0,1794.8 97.5,1794.7 98.0,1795.5 98.5,1795.5 99.0,1795.4 99.5,1794.9 100.0,1794.5 100.5,1795.3 101.0,1793.7 101.5,1795.6 102.0,1796.6 102.5,1796.8 103.0,1797.6 103.5,1794.9 104.0,1795.1 104.5,1793.9 105.0,1794.1 105.5,1793.5 106.0,1793.6 106.5,1795.3 107.0,1795.5 107.5,1796.1 108.0,1795.7 108.5,1795.4 109.0,1793.7 109.5,1793.9 110.0,1794.5 110.5,1795.0 111.0,1794.3 111.5,1794.7 112.0,1794.7 112.5,1796.5 113.0,1795.9 113.5,1794.9 114.0,1794.1 114.5,1794.6 115.0,1792.7 115.5,1794.1 116.0,1793.7 116.5,1794.2 117.0,1795.1 117.5,1795.4 118.0,1797.0 118.5,1794.5 119.0,1795.1 119.5,1793.8 120.0,1793.2 120.5,1795.5 121.0,1796.1 121.5,1793.6 122.0,1794.2 122.5,1794.9 123.0,1793.8 123.5,1792.2 124.0,1795.1 124.5,1795.0 125.0,1795.6 125.5,1793.4 126.0,1795.0 126.5,1795.2 127.0,1793.8 127.5,1795.0 128.0,1793.8 128.5,1793.4 129.0,1793.5 129.5,1794.2 130.0,1794.0 130.5,1795.2 131.0,1794.7 131.5,1794.0 132.0,1795.3 132.5,1794.6 133.0,1795.2 133.5,1794.7 134.0,1795.9 134.5,1794.8 135.0,1793.5 135.5,1794.3 136.0,1795.1 136.5,1795.7 137.0,1795.8 137.5,1793.6 138.0,1795.2 138.5,1794.6 139.0,1795.4 139.5,1795.4 140.0,1795.1 140.5,1794.5 141.0,1795.4 141.5,1794.7 142.0,1796.0 142.5,1795.9 143.0,1794.3 143.5,1793.4 144.0,1794.5 144.5,1795.7 145.0,1795.7 145.5,1794.6 146.0,1794.3 146.5,1794.6 147.0,1794.4 147.5,1795.7 148.0,1795.2 148.5,1795.7 149.0,1795.3 149.5,1796.8 150.0,1795.1 150.5,1795.3 151.0,1795.1 151.5,1796.0 152.0,1795.9 152.5,1795.3 153.0,1795.9 153.5,1794.5 154.0,1794.7 154.5,1796.1 155.0,1795.4 155.5,1794.9 156.0,1795.2 156.5,1794.8 157.0,1794.8 157.5,1795.6 158.0,1794.5 158.5,1794.6 159.0,1794.7 159.5,1794.3 160.0,1797.2 160.5,1795.0 161.0,1795.3 161.5,1794.2 162.0,1794.0 162.5,1793.9 163.0,1794.6 163.5,1795.2 164.0,1793.6 164.5,1795.0 165.0,1794.2 165.5,1794.4 166.0,1793.9 166.5,1795.3 167.0,1794.3 167.5,1794.1 168.0,1794.6 168.5,1794.2 169.0,1793.3 169.5,1793.8 170.0,1795.5 170.5,1794.4 171.0,1795.5 171.5,1795.1 172.0,1794.3 172.5,1794.1 173.0,1794.9 173.5,1794.7 174.0,1793.7 174.5,1793.7 175.0,1794.1 175.5,1793.1 176.0,1794.4 176.5,1795.2 177.0,1796.8 177.5,1795.2 178.0,1795.0 178.5,1795.0 179.0,1794.7 179.5,1794.7 180.0,1794.8 180.5,1794.7 181.0,1794.1 181.5,1793.9 182.0,1793.3 182.5,1795.4 183.0,1793.5 183.5,1795.9 184.0,1795.2 184.5,1794.6 185.0,1795.5 185.5,1794.9 186.0,1795.8 186.5,1795.7 187.0,1795.2 187.5,1795.0 188.0,1795.5 188.5,1794.7 189.0,1794.9 189.5,1794.9 190.0,1794.5 190.5,1796.2 191.0,1795.2 191.5,1793.9 192.0,1795.2 192.5,1795.1 193.0,1793.6 193.5,1794.7 194.0,1794.7 194.5,1795.5 195.0,1794.5 195.5,1795.2 196.0,1795.4 196.5,1795.5 197.0,1793.4 197.5,1794.8 198.0,1795.4 198.5,1793.9 199.0,1794.8 199.5,1796.1 200.0,1796.7 200.5,1796.2 201.0,1794.6 201.5,1795.5 202.0,1795.0 202.5,1795.8 203.0,1794.1 203.5,1794.1 204.0,1794.0 204.5,1795.3 205.0,1795.8 205.5,1795.2 206.0,1795.2 206.5,1795.4 207.0,1795.7 207.5,1793.3 208.0,1794.8 208.5,1795.5 209.0,1795.5 209.5,1796.1 210.0,1795.4 210.5,1794.8 211.0,1795.8 211.5,1796.2 212.0,1795.4 212.5,1794.7 213.0,1793.5 213.5,1795.0 214.0,1795.0 214.5,1794.5 215.0,1794.9 215.5,1794.4 216.0,1795.4 216.5,1795.5 217.0,1796.0 217.5,1795.5 218.0,1795.8 218.5,1796.4 219.0,1795.7 219.5,1794.7 220.0,1794.4 220.5,1794.8 221.0,1794.0 221.5,1793.6 222.0,1794.1 222.5,1793.9 223.0,1794.8 223.5,1796.5 224.0,1796.5 224.5,1794.1 225.0,1794.7 225.5,1794.6 226.0,1794.5 226.5,1795.2 227.0,1795.1 227.5,1794.7 228.0,1795.6 228.5,1794.2 229.0,1795.0 229.5,1794.1 230.0,1795.0 230.5,1794.4 231.0,1795.0 231.5,1795.4 232.0,1793.7 232.5,1794.2 233.0,1794.3 233.5,1794.3 234.0,1794.3 234.5,1793.6 235.0,1793.9 235.5,1794.6 236.0,1794.7 236.5,1794.1 237.0,1795.9 237.5,1795.5 238.0,1795.7 238.5,1795.8 239.0,1794.1 239.5,1796.1 240.0,1794.4 240.5,1795.8 241.0,1796.3 241.5,1795.9 242.0,1795.4 242.5,1794.5 243.0,1795.0 243.5,1795.2 244.0,1796.4 244.5,1794.8 245.0,1795.4 245.5,1795.2 246.0,1795.4 246.5,1795.8 247.0,1796.3 247.5,1794.2 248.0,1794.8 248.5,1794.4 249.0,1794.3 249.5,1795.3 250.0,1795.0 250.5,1794.4 251.0,1795.2 251.5,1794.3 252.0,1796.6 252.5,1794.0 253.0,1794.8 253.5,1794.9 254.0,1794.7 254.5,1795.3 255.0,1795.1 255.5,1794.7 256.0,1795.9 256.5,1795.5 257.0,1794.8 257.5,1795.1 258.0,1794.4 258.5,1795.8 259.0,1797.4 259.5,1795.3 260.0,1794.9 260.5,1796.1 261.0,1794.2 261.5,1796.5 262.0,1793.8 262.5,1794.8 263.0,1795.5 263.5,1796.7 264.0,1795.8 264.5,1794.1 265.0,1794.4 265.5,1796.0 266.0,1793.9 266.5,1794.9 267.0,1794.5 267.5,1795.6 268.0,1795.9 268.5,1793.4 269.0,1795.9 269.5,1796.3 270.0,1794.7 270.5,1794.6 271.0,1794.2 271.5,1794.8 272.0,1794.9 272.5,1795.6 273.0,1796.0 273.5,1795.0 274.0,1794.4 274.5,1795.4 275.0,1792.8 275.5,1794.4 276.0,1796.3 276.5,1797.1 277.0,1794.7 277.5,1795.2 278.0,1793.9 278.5,1794.7 279.0,1794.9 279.5,1794.6 280.0,1795.2 280.5,1794.7 281.0,1796.0 281.5,1795.8 282.0,1794.5 282.5,1795.4 283.0,1796.0 283.5,1794.7 284.0,1795.9 284.5,1795.8 285.0,1795.2 285.5,1795.6 286.0,1795.0 286.5,1794.3 287.0,1795.8 287.5,1795.9 288.0,1794.5 288.5,1794.6 289.0,1794.4 289.5,1795.1 290.0,1796.5 290.5,1795.1 291.0,1795.7 291.5,1795.4 292.0,1795.4 292.5,1796.3 293.0,1795.3 293.5,1793.9 294.0,1793.7 294.5,1792.1 295.0,1795.5 295.5,1794.7 296.0,1794.9 296.5,1795.3 297.0,1795.3 297.5,1794.7 298.0,1795.2 298.5,1796.3 299.0,1795.3 299.5,1796.7 300.0,1795.4 300.5,1793.5 301.0,1796.0 301.5,1794.8 302.0,1796.5 302.5,1796.6 303.0,1794.9 303.5,1793.9 304.0,1794.8 304.5,1795.9 305.0,1796.7 305.5,1794.4 306.0,1795.8 306.5,1795.6 307.0,1795.1 307.5,1795.3 308.0,1796.7 308.5,1794.5 309.0,1795.0 309.5,1796.4 310.0,1796.2 310.5,1794.1 311.0,1794.5 311.5,1794.5 312.0,1796.0 312.5,1795.2 313.0,1796.2 313.5,1795.3 314.0,1794.9 314.5,1795.2 315.0,1795.7 315.5,1795.8 316.0,1795.6 316.5,1795.6 317.0,1795.5 317.5,1794.6 318.0,1795.9 318.5,1795.1 319.0,1794.3 319.5,1795.8 320.0,1797.3 320.5,1796.9 321.0,1794.8 321.5,1796.7 322.0,1795.6 322.5,1794.9 323.0,1794.8 323.5,1794.9 324.0,1794.3 324.5,1794.2 325.0,1795.1 325.5,1794.2 326.0,1794.3 326.5,1794.5 327.0,1794.7 327.5,1795.5 328.0,1794.2 328.5,1795.5 329.0,1795.9 329.5,1796.1 330.0,1795.8 330.5,1796.3 331.0,1795.3 331.5,1795.8 332.0,1795.9 332.5,1794.4 333.0,1795.5 333.5,1796.2 334.0,1794.7 334.5,1794.7 335.0,1796.9 335.5,1795.6 336.0,1796.1 336.5,1793.4 337.0,1795.1 337.5,1794.2 338.0,1794.8 338.5,1795.6 339.0,1794.6 339.5,1794.6 340.0,1793.0 340.5,1795.7 341.0,1796.4 341.5,1796.2 342.0,1795.8 342.5,1796.2 343.0,1796.1 343.5,1795.2 344.0,1796.0 344.5,1794.0 345.0,1793.2 345.5,1795.1 346.0,1796.6 346.5,1795.8 347.0,1795.8 347.5,1794.7 348.0,1794.3 348.5,1794.6 349.0,1793.9 349.5,1795.7 350.0,1796.4 350.5,1797.3 351.0,1795.9 351.5,1796.0 352.0,1794.5 352.5,1794.4 353.0,1796.7 353.5,1798.1 354.0,1794.6 354.5,1794.6 355.0,1795.3 355.5,1794.6 356.0,1795.9 356.5,1795.0 357.0,1794.5 357.5,1795.3 358.0,1795.1 358.5,1794.8 359.0,1796.2 359.5,1795.3 360.0,1794.7 360.5,1795.1 361.0,1795.9 361.5,1794.8 362.0,1795.2 362.5,1795.2 363.0,1794.7 363.5,1796.0 364.0,1794.6 364.5,1796.3 365.0,1795.7 365.5,1795.9 366.0,1794.8 366.5,1795.8 367.0,1794.9 367.5,1793.7 368.0,1793.8 368.5,1794.7 369.0,1795.9 369.5,1794.4 370.0,1794.8 370.5,1795.7 371.0,1795.2 371.5,1795.6 372.0,1797.0 372.5,1794.7 373.0,1794.8 373.5,1795.2 374.0,1796.1 374.5,1795.3 375.0,1794.5 375.5,1794.9 376.0,1793.8 376.5,1795.6 377.0,1793.4 377.5,1794.8 378.0,1795.7 378.5,1795.7 379.0,1794.3 379.5,1795.7 380.0,1794.9 380.5,1794.6 381.0,1795.9 381.5,1795.2 382.0,1794.3 382.5,1794.5 383.0,1795.7 383.5,1795.2 384.0,1794.1 384.5,1793.9 385.0,1794.5 385.5,1794.9 386.0,1796.0 386.5,1794.4 387.0,1795.0 387.5,1795.1 388.0,1793.1 388.5,1793.8 389.0,1795.6 389.5,1794.4 390.0,1795.2 390.5,1796.4 391.0,1795.0 391.5,1795.0 392.0,1793.8 392.5,1795.1 393.0,1793.9 393.5,1793.8 394.0,1793.1 394.5,1796.3 395.0,1795.8 395.5,1794.5 396.0,1796.2 396.5,1793.1 397.0,1794.2 397.5,1792.8 398.0,1796.1 398.5,1792.9 399.0,1794.5 399.5,1794.2 400.0,1794.7 400.5,1794.7 401.0,1794.3 401.5,1793.7 402.0,1795.9 402.5,1794.3 403.0,1795.0 403.5,1795.7 404.0,1792.8 404.5,1793.1 405.0,1795.4 405.5,1794.9 406.0,1792.9 406.5,1794.0 407.0,1795.5 407.5,1794.1 408.0,1794.6 408.5,1793.8 409.0,1793.3 409.5,1794.9 410.0,1793.9 410.5,1793.1 411.0,1791.6 411.5,1792.2 412.0,1792.5 412.5,1793.3 413.0,1793.0 413.5,1792.5 414.0,1793.4 414.5,1791.7 415.0,1792.2 415.5,1791.7 416.0,1791.6 416.5,1791.0 417.0,1790.9 417.5,1791.7 418.0,1790.1 418.5,1789.3 419.0,1790.0 419.5,1787.0 420.0,1788.0 420.5,1787.0 421.0,1784.7 421.5,1784.2 422.0,1782.9 422.5,1783.0 423.0,1781.0 423.5,1777.2 424.0,1772.8 424.5,1766.9 425.0,1758.8 425.5,1743.1 426.0,1720.0 426.5,1684.6 427.0,1634.3 427.5,1569.4 428.0,1495.1 428.5,1425.1 429.0,1378.6 429.4,1368.0 429.5,1369.3 430.0,1392.2 430.5,1437.5 431.0,1498.1 431.5,1564.8 432.0,1626.6 432.5,1676.4 433.0,1712.6 433.5,1738.3 434.0,1754.3 434.5,1765.1 435.0,1772.5 435.5,1775.8 436.0,1778.3 436.5,1781.3 437.0,1782.2 437.5,1784.4 438.0,1785.6 438.5,1784.9 439.0,1786.6 439.5,1788.2 440.0,1787.3 440.5,1789.3 441.0,1788.6 441.5,1788.8 442.0,1791.7 442.5,1792.0 443.0,1791.0 443.5,1791.4 444.0,1793.2 444.5,1793.7 445.0,1792.7 445.5,1792.5 446.0,1791.9 446.5,1792.6 447.0,1794.1 447.5,1793.4 448.0,1794.1 448.5,1793.1 449.0,1792.8 449.5,1793.4 450.0,1794.3 450.5,1794.6 451.0,1793.8 451.5,1793.1 452.0,1794.4 452.5,1793.6 453.0,1793.2 453.5,1793.7 454.0,1794.7 454.5,1795.2 455.0,1794.8 455.5,1794.9 456.0,1794.4 456.5,1793.9 457.0,1795.1 457.5,1793.8 458.0,1794.4 458.5,1795.3 459.0,1795.2 459.5,1794.0 460.0,1795.1 460.5,1795.2 461.0,1795.3 461.5,1795.0 462.0,1794.8 462.5,1794.4 463.0,1795.8 463.5,1795.5 464.0,1795.1 464.5,1794.3 465.0,1795.6 465.5,1795.2 466.0,1794.8 466.5,1795.5 467.0,1794.9 467.5,1796.0 468.0,1795.4 468.5,1795.1 469.0,1795.2 469.5,1795.0 470.0,1795.5 470.5,1796.4 471.0,1795.6 471.5,1795.5 472.0,1794.5 472.5,1795.7 473.0,1794.9 473.5,1794.8 474.0,1793.1 474.5,1794.8 475.0,1794.6 475.5,1795.4 476.0,1795.8 476.5,1794.5 477.0,1794.3 477.5,1795.7 478.0,1794.9 478.5,1795.8 479.0,1796.9 479.5,1795.0 480.0,1795.2 480.5,1794.6 481.0,1795.3 481.5,1796.4 482.0,1795.7 482.5,1796.3 483.0,1796.4 483.5,1795.2 484.0,1794.2 484.5,1796.2 485.0,1795.7 485.5,1796.4 486.0,1795.8 486.5,1796.2 487.0,1794.8 487.5,1795.4 488.0,1795.7 488.5,1796.0 489.0,1796.4 489.5,1795.7 490.0,1793.1 490.5,1794.7 491.0,1795.0 491.5,1796.3 492.0,1795.7 492.5,1794.9 493.0,1794.9 493.5,1795.9 494.0,1795.9 494.5,1796.8 495.0,1796.0 495.5,1795.7 496.0,1796.9 496.5,1797.5 497.0,1795.5 497.5,1795.9 498.0,1795.7 498.5,1795.0 499.0,1795.2 499.5,1794.6 500.0,1795.6 500.5,1795.9 501.0,1796.1 501.5,1795.0 502.0,1796.8 502.5,1795.0 503.0,1795.1 503.5,1796.2 504.0,1796.7 504.5,1796.8 505.0,1797.4 505.5,1796.4 506.0,1794.9 506.5,1794.9 507.0,1794.8 507.5,1795.7 508.0,1794.9 508.5,1795.0 509.0,1795.6 509.5,1794.7 510.0,1797.5 510.5,1796.7 511.0,1794.6 511.5,1795.6 512.0,1793.9 512.5,1793.3 513.0,1795.3 513.5,1795.3 514.0,1795.0 514.5,1795.4 515.0,1795.1 515.5,1795.8 516.0,1795.8 516.5,1795.7 517.0,1795.6 517.5,1795.1 518.0,1796.2 518.5,1794.9 519.0,1795.0 519.5,1797.4 520.0,1796.0 520.5,1796.3 521.0,1795.7 521.5,1795.0 522.0,1794.9 522.5,1795.8 523.0,1795.3 523.5,1795.6 524.0,1795.6 524.5,1796.0 525.0,1796.3 525.5,1797.0 526.0,1795.2 526.5,1795.6 527.0,1795.7 527.5,1794.8 528.0,1793.3 528.5,1795.6 529.0,1795.8 529.5,1795.5 530.0,1795.2 530.5,1795.3 531.0,1797.2 531.5,1796.9 532.0,1796.2 532.5,1796.6 533.0,1796.3 533.5,1795.1 534.0,1795.1 534.5,1795.1 535.0,1796.1 535.5,1795.0 536.0,1795.4 536.5,1795.0 537.0,1795.3 537.5,1795.4 538.0,1796.0 538.5,1796.8 539.0,1794.6 539.5,1795.2 540.0,1795.6 540.5,1796.4 541.0,1795.9 541.5,1795.4 542.0,1795.9 542.5,1796.1 543.0,1796.2 543.5,1796.5 544.0,1797.0 544.5,1796.3 545.0,1795.9 545.5,1795.7 546.0,1794.7 546.5,1795.5 547.0,1796.8 547.5,1797.1 548.0,1796.6 548.5,1796.6 549.0,1795.1 549.5,1795.0 550.0,1795.2 550.5,1795.3 551.0,1794.8 551.5,1796.0 552.0,1795.6 552.5,1795.4 553.0,1796.5 553.5,1796.7 554.0,1796.9 554.5,1795.8 555.0,1797.3 555.5,1796.1 556.0,1795.2 556.5,1795.7 557.0,1795.2 557.5,1795.0 558.0,1795.2 558.5,1796.4 559.0,1794.7 559.5,1796.1 560.0,1796.0 560.5,1797.0 561.0,1796.1 561.5,1796.6 562.0,1796.8 562.5,1794.3 563.0,1794.9 563.5,1795.0 564.0,1795.1 564.5,1795.0 565.0,1794.7 565.5,1795.5 566.0,1795.1 566.5,1795.3 567.0,1795.8 567.5,1795.1 568.0,1794.7 568.5,1795.0 569.0,1796.3 569.5,1796.3 570.0,1795.4 570.5,1796.1 571.0,1794.5 571.5,1794.8 572.0,1795.1 572.5,1794.4 573.0,1796.3 573.5,1796.1 574.0,1796.7 574.5,1796.0 575.0,1795.1 575.5,1795.4 576.0,1795.7 576.5,1795.3 577.0,1796.1 577.5,1795.0 578.0,1794.8 578.5,1795.8 579.0,1795.0 579.5,1794.6 580.0,1795.6 580.5,1795.5 581.0,1795.4 581.5,1796.5 582.0,1794.1 582.5,1795.5 583.0,1796.1 583.5,1796.1 584.0,1795.3 584.5,1797.4 585.0,1797.8 585.5,1796.3 586.0,1794.9 586.5,1794.7 587.0,1795.2 587.5,1795.8 588.0,1796.6 588.5,1796.4 589.0,1793.9 589.5,1795.3 590.0,1795.8 590.5,1796.7 591.0,1794.5 591.5,1793.9 592.0,1795.2 592.5,1796.4 593.0,1795.0 593.5,1796.6 594.0,1795.7 594.5,1796.5 595.0,1796.2 595.5,1795.7 596.0,1796.4 596.5,1797.0 597.0,1795.9 597.5,1796.0 598.0,1796.9 598.5,1796.5 599.0,1795.2 599.5,1795.4 600.0,1795.4 600.5,1795.7 601.0,1793.5 601.5,1795.9 602.0,1797.0 602.5,1796.3 603.0,1796.3 603.5,1795.9 604.0,1794.8 604.5,1795.6 605.0,1795.6 605.5,1795.6 606.0,1796.1 606.5,1795.4 607.0,1795.7 607.5,1796.0 608.0,1795.9 608.5,1794.9 609.0,1795.4 609.5,1795.3 610.0,1793.9 610.5,1794.6 611.0,1796.1 611.5,1795.7 612.0,1797.1 612.5,1795.7 613.0,1796.0 613.5,1796.2 614.0,1795.9 614.5,1795.5 615.0,1796.0 615.5,1796.3 616.0,1795.9 616.5,1796.4 617.0,1796.6 617.5,1795.9 618.0,1795.4 618.5,1795.4 619.0,1795.5 619.5,1795.3 620.0,1795.4 620.5,1797.6 621.0,1797.1 621.5,1796.3 622.0,1796.4 622.5,1796.2 623.0,1796.2 623.5,1796.2 624.0,1794.8 624.5,1797.3 625.0,1795.4 625.5,1795.8 626.0,1795.2 626.5,1794.1 627.0,1794.1 627.5,1797.1 628.0,1797.1 628.5,1794.8 629.0,1794.2 629.5,1796.6 630.0,1795.0 630.5,1795.5 631.0,1796.5 631.5,1795.9 632.0,1796.8 632.5,1796.0 633.0,1794.6 633.5,1795.9 634.0,1794.9 634.5,1796.0 635.0,1795.2 635.5,1796.5 636.0,1796.6 636.5,1796.1 637.0,1796.2 637.5,1795.2 638.0,1794.9 638.5,1796.4 639.0,1795.9 639.5,1795.0 640.0,1797.1 640.5,1795.1 641.0,1796.1 641.5,1796.1 642.0,1794.9 642.5,1794.7 643.0,1795.6 643.5,1795.7 644.0,1795.1 644.5,1796.4 645.0,1795.2 645.5,1794.9 646.0,1795.9 646.5,1794.6 647.0,1794.7 647.5,1795.5 648.0,1795.7 648.5,1796.4 649.0,1797.7 649.5,1795.3 650.0,1796.4 650.5,1796.1 651.0,1796.5 651.5,1795.8 652.0,1795.8 652.5,1795.9 653.0,1796.5 653.5,1797.2 654.0,1798.0 654.5,1795.3 655.0,1796.3 655.5,1795.9 656.0,1795.3 656.5,1794.5 657.0,1795.9 657.5,1794.4 658.0,1796.6 658.5,1795.4 659.0,1795.5 659.5,1795.4 660.0,1796.4 660.5,1795.5 661.0,1796.5 661.5,1795.5 662.0,1796.4 662.5,1796.2 663.0,1796.6 663.5,1795.4 664.0,1796.3 664.5,1797.5 665.0,1795.7 665.5,1795.7 666.0,1795.8 666.5,1796.1 667.0,1794.6 667.5,1797.1 668.0,1796.1 668.5,1796.6 669.0,1796.4 669.5,1797.6 670.0,1795.5 670.5,1796.6 671.0,1796.6 671.5,1795.4 672.0,1795.7 672.5,1796.5 673.0,1796.2 673.5,1795.9 674.0,1796.4 674.5,1796.3 675.0,1795.5 675.5,1795.7 676.0,1794.7 676.5,1796.1 677.0,1796.7 677.5,1796.7 678.0,1795.9 678.5,1795.1 679.0,1796.1 679.5,1795.2 680.0,1796.1 680.5,1795.6 681.0,1796.8 681.5,1795.6 682.0,1796.3 682.5,1795.6 683.0,1796.2 683.5,1796.2 684.0,1795.1 684.5,1796.8 685.0,1796.1 685.5,1795.3 686.0,1795.7 686.5,1794.8 687.0,1794.5 687.5,1795.6 688.0,1794.2 688.5,1796.0 689.0,1794.9 689.5,1795.6 690.0,1796.5 690.5,1794.9 691.0,1795.1 691.5,1796.5 692.0,1795.5 692.5,1796.0 693.0,1794.9 693.5,1795.5 694.0,1796.2 694.5,1796.1 695.0,1795.1 695.5,1796.0 696.0,1796.2 696.5,1796.0 697.0,1795.8 697.5,1795.1 698.0,1796.0 698.5,1796.1 699.0,1795.1 699.5,1794.3 700.0,1795.5 700.5,1796.0 701.0,1796.1 701.5,1795.3 702.0,1797.3 702.5,1795.7 703.0,1797.0 703.5,1795.6 704.0,1796.2 704.5,1796.0 705.0,1795.5 705.5,1796.5 706.0,1795.8 706.5,1795.7 707.0,1796.0 707.5,1796.2 708.0,1797.0 708.5,1796.7 709.0,1796.1 709.5,1795.3 710.0,1796.1 710.5,1795.7 711.0,1795.6 711.5,1795.7 712.0,1795.3 712.5,1796.2 713.0,1795.4 713.5,1795.5 714.0,1794.2 714.5,1795.2 715.0,1794.9 715.5,1794.8 716.0,1795.3 716.5,1794.9 717.0,1796.1 717.5,1795.7 718.0,1795.8 718.5,1794.9 719.0,1796.1 719.5,1795.9 720.0,1795.2 720.5,1795.9 721.0,1794.9 721.5,1795.7 722.0,1795.1 722.5,1796.2 723.0,1795.9 723.5,1796.2 724.0,1795.0 724.5,1794.2 725.0,1795.3 725.5,1795.5 726.0,1797.4 726.5,1796.4 727.0,1796.7 727.5,1795.9 728.0,1795.7 728.5,1794.8 729.0,1795.3 729.5,1796.3 730.0,1796.4 730.5,1796.5 731.0,1795.6 731.5,1794.3 732.0,1795.7 732.5,1794.5 733.0,1794.9 733.5,1795.9 734.0,1793.5 734.5,1794.6 735.0,1795.7 735.5,1796.8 736.0,1796.2 736.5,1795.4 737.0,1796.5 737.5,1796.7 738.0,1795.2 738.5,1796.0 739.0,1794.3 739.5,1793.7 740.0,1794.8 740.5,1795.1 741.0,1794.3 741.5,1796.6 742.0,1795.0 742.5,1796.5 743.0,1796.7 743.5,1797.4 744.0,1795.2 744.5,1796.3 745.0,1794.5 745.5,1795.8 746.0,1796.0 746.5,1795.5 747.0,1795.9 747.5,1796.7 748.0,1797.1 748.5,1795.8 749.0,1794.0 749.5,1794.2 750.0,1795.6 750.5,1796.0 751.0,1796.6 751.5,1795.7 752.0,1794.8 752.5,1796.0 753.0,1796.1 753.5,1796.7 754.0,1795.5 754.5,1796.9 755.0,1797.4 755.5,1797.5 756.0,1797.1 756.5,1795.2 757.0,1795.2 757.5,1796.2 758.0,1795.6 758.5,1794.9 759.0,1797.1 759.5,1796.1 760.0,1796.3 760.5,1795.8 761.0,1796.6 761.5,1796.1 762.0,1796.1 762.5,1796.8 763.0,1794.7 763.5,1796.3 764.0,1794.6 764.5,1796.6 765.0,1795.9 765.5,1794.9 766.0,1793.6 766.5,1795.1 767.0,1797.3 767.5,1796.3 768.0,1794.8 768.5,1794.6 769.0,1797.4 769.5,1795.0 770.0,1794.6 770.5,1795.8 771.0,1796.4 771.5,1797.1 772.0,1795.8 772.5,1795.5 773.0,1795.9 773.5,1795.1 774.0,1796.4 774.5,1796.1 775.0,1796.5 775.5,1794.9 776.0,1794.8 776.5,1795.5 777.0,1795.7 777.5,1794.3 778.0,1794.9 778.5,1795.9 779.0,1795.6 779.5,1797.2 780.0,1796.1 780.5,1796.3 781.0,1794.6 781.5,1794.7 782.0,1795.7 782.5,1796.5 783.0,1795.1 783.5,1796.0 784.0,1793.9 784.5,1794.9 785.0,1794.6 785.5,1794.1 786.0,1795.7 786.5,1795.2 787.0,1794.7 787.5,1794.9 788.0,1795.8 788.5,1794.0 789.0,1794.6 789.5,1793.0 790.0,1793.5 790.5,1793.2 791.0,1793.7 791.5,1794.4 792.0,1794.2 792.5,1792.2 793.0,1791.7 793.5,1790.8 794.0,1792.2 794.5,1792.0 795.0,1790.1 795.5,1789.4 796.0,1789.1 796.5,1787.9 797.0,1787.3 797.5,1786.0 798.0,1781.7 798.5,1776.3 799.0,1769.3 799.5,1757.6 800.0,1743.1 800.5,1724.1 801.0,1701.2 801.5,1676.8 802.0,1652.2 802.5,1635.1 803.0,1628.0 803.1,1627.7 803.5,1630.1 804.0,1639.4 804.5,1651.6 805.0,1665.7 805.5,1681.3 806.0,1700.2 806.5,1718.8 807.0,1736.0 807.5,1750.8 808.0,1762.5 808.5,1770.8 809.0,1777.5 809.5,1783.6 810.0,1785.5 810.5,1787.6 811.0,1787.6 811.5,1789.5 812.0,1789.0 812.5,1790.6 813.0,1791.5 813.5,1792.1 814.0,1790.8 814.5,1790.9 815.0,1791.4 815.5,1792.4 816.0,1793.2 816.5,1793.9 817.0,1794.6 817.5,1794.7 818.0,1792.8 818.5,1792.9 819.0,1794.4 819.5,1793.7 820.0,1794.7 820.5,1795.0 821.0,1794.2 821.5,1795.4 822.0,1795.9 822.5,1795.1 823.0,1795.0 823.5,1795.6 824.0,1796.5 824.5,1795.5 825.0,1796.0 825.5,1795.3 826.0,1795.0 826.5,1795.3 827.0,1796.4 827.5,1795.5 828.0,1796.4 828.5,1795.5 829.0,1796.4 829.5,1795.9 830.0,1796.3 830.5,1796.6 831.0,1796.1 831.5,1796.0 832.0,1795.4 832.5,1794.4 833.0,1794.2 833.5,1794.7 834.0,1795.9 834.5,1796.8 835.0,1796.3 835.5,1795.9 836.0,1795.7 836.5,1794.8 837.0,1795.7 837.5,1795.8 838.0,1796.2 838.5,1796.1 839.0,1795.0 839.5,1795.0 840.0,1794.4 840.5,1796.7 841.0,1796.6 841.5,1795.1 842.0,1795.0 842.5,1795.4 843.0,1794.8 843.5,1797.3 844.0,1796.5 844.5,1796.1 845.0,1797.0 845.5,1797.1 846.0,1796.5 846.5,1797.3 847.0,1795.2 847.5,1795.6 848.0,1795.2 848.5,1794.2 849.0,1795.1 849.5,1796.5 850.0,1795.4 850.5,1796.2 851.0,1796.6 851.5,1795.7 852.0,1795.9 852.5,1795.3 853.0,1796.4 853.5,1794.9 854.0,1795.5 854.5,1795.3 855.0,1796.2 855.5,1795.8 856.0,1796.2 856.5,1796.1 857.0,1795.3 857.5,1795.4 858.0,1794.9 858.5,1796.7 859.0,1797.2 859.5,1797.3 860.0,1795.4 860.5,1795.4 861.0,1797.4 861.5,1797.1 862.0,1795.5 862.5,1795.7 863.0,1794.5 863.5,1796.0 864.0,1797.2 864.5,1796.3 865.0,1795.2 865.5,1796.1 866.0,1795.0 866.5,1795.5 867.0,1794.7 867.5,1795.5 868.0,1795.9 868.5,1795.4 869.0,1795.7 869.5,1795.9 870.0,1796.0 870.5,1795.0 871.0,1795.9 871.5,1795.7 872.0,1796.2 872.5,1795.6 873.0,1796.1 873.5,1795.3 874.0,1794.6 874.5,1795.5 875.0,1796.2 875.5,1795.6 876.0,1795.6 876.5,1795.9 877.0,1796.5 877.5,1796.6 878.0,1795.9 878.5,1795.0 879.0,1795.4 879.5,1798.3 880.0,1795.9 880.5,1796.8 881.0,1797.1 881.5,1795.6 882.0,1797.0 882.5,1796.2 883.0,1795.8 883.5,1796.4 884.0,1795.1 884.5,1795.6 885.0,1795.1 885.5,1795.9 886.0,1795.8 886.5,1795.2 887.0,1795.3 887.5,1795.6 888.0,1796.0 888.5,1794.7 889.0,1795.1 889.5,1796.3 890.0,1795.6 890.5,1795.4 891.0,1795.1 891.5,1796.0 892.0,1796.3 892.5,1795.8 893.0,1794.8 893.5,1796.8 894.0,1795.3 894.5,1797.3 895.0,1795.8 895.5,1796.6 896.0,1796.4 896.5,1796.0 897.0,1796.7 897.5,1795.6 898.0,1796.8 898.5,1795.9 899.0,1795.8 899.5,1797.2 900.0,1796.7 900.5,1796.3 901.0,1795.8 901.5,1797.4 902.0,1797.0 902.5,1796.4 903.0,1795.0 903.5,1795.0 904.0,1795.1 904.5,1796.0 905.0,1795.3 905.5,1796.9 906.0,1795.6 906.5,1797.2 907.0,1795.2 907.5,1794.1 908.0,1795.4 908.5,1796.1 909.0,1796.3 909.5,1793.5 910.0,1794.2 910.5,1795.6 911.0,1795.6 911.5,1796.0 912.0,1794.6 912.5,1795.3 913.0,1794.8 913.5,1795.6 914.0,1795.4 914.5,1795.8 915.0,1795.7 915.5,1796.4 916.0,1795.4 916.5,1796.0 917.0,1794.0 917.5,1795.2 918.0,1796.2 918.5,1795.9 919.0,1794.2 919.5,1796.2 920.0,1795.6 920.5,1798.2 921.0,1796.8 921.5,1796.9 922.0,1795.7 922.5,1796.9 923.0,1794.6 923.5,1795.4 924.0,1795.5 924.5,1794.4 925.0,1796.1 925.5,1796.1 926.0,1797.3 926.5,1794.8 927.0,1795.2 927.5,1796.3 928.0,1795.3 928.5,1796.0 929.0,1795.7 929.5,1794.6 930.0,1795.6 930.5,1796.5 931.0,1796.9 931.5,1796.4 932.0,1795.7 932.5,1796.0 933.0,1797.4 933.5,1798.1 934.0,1795.3 934.5,1795.0 935.0,1795.2 935.5,1796.4 936.0,1795.1 936.5,1797.3 937.0,1797.5 937.5,1793.9 938.0,1796.1 938.5,1796.5 939.0,1796.1 939.5,1795.1 940.0,1795.7 940.5,1795.2 941.0,1796.5 941.5,1796.2 942.0,1795.0 942.5,1797.0 943.0,1797.1 943.5,1796.6 944.0,1795.8 944.5,1797.2 945.0,1796.9 945.5,1796.0 946.0,1794.4 946.5,1795.4 947.0,1793.9 947.5,1795.7 948.0,1794.8 948.5,1796.4 949.0,1795.8 949.5,1794.7 950.0,1794.6 950.5,1795.0 951.0,1796.7 951.5,1795.5 952.0,1795.1 952.5,1795.6 953.0,1794.2 953.5,1794.2 954.0,1795.3 954.5,1796.9 955.0,1796.3 955.5,1795.7 956.0,1795.4 956.5,1795.5 957.0,1796.7 957.5,1795.8 958.0,1794.5 958.5,1795.2 959.0,1796.0 959.5,1795.1 960.0,1795.5 960.5,1796.0 961.0,1795.4 961.5,1795.5 962.0,1795.2 962.5,1795.2 963.0,1794.7 963.5,1796.2 964.0,1795.1 964.5,1795.5 965.0,1795.2 965.5,1795.4 966.0,1795.0 966.5,1793.9 967.0,1796.6 967.5,1794.9 968.0,1795.4 968.5,1793.4 969.0,1794.3 969.5,1793.1 970.0,1794.4 970.5,1793.1 971.0,1791.7 971.5,1793.7 972.0,1791.2 972.5,1791.5 973.0,1791.7 973.5,1788.9 974.0,1787.6 974.5,1783.5 975.0,1778.2 975.5,1772.6 976.0,1763.5 976.5,1754.3 977.0,1746.8 977.5,1740.0 978.0,1737.9 978.1,1737.6 978.5,1739.4 979.0,1742.3 979.5,1744.8 980.0,1749.7 980.5,1754.0 981.0,1757.9 981.5,1764.2 982.0,1769.1 982.5,1775.3 983.0,1781.1 983.5,1784.7 984.0,1787.7 984.5,1789.4 985.0,1790.2 985.5,1791.7 986.0,1793.1 986.5,1793.8 987.0,1793.3 987.5,1795.5 988.0,1793.3 988.5,1793.3 989.0,1793.8 989.5,1794.9 990.0,1794.0 990.5,1795.0 991.0,1794.1 991.5,1794.1 992.0,1795.3 992.5,1796.2 993.0,1796.4 993.5,1794.3 994.0,1796.3 994.5,1797.5 995.0,1796.6 995.5,1796.0 996.0,1795.3 996.5,1794.8 997.0,1796.2 997.5,1796.7 998.0,1795.1 998.5,1795.9 999.0,1796.0 999.5,1794.4 1000.0,1796.8 1000.5,1796.0 1001.0,1796.5 1001.5,1795.2 1002.0,1794.4 1002.5,1795.1 1003.0,1796.2 1003.5,1795.8 1004.0,1796.8 1004.5,1796.1 1005.0,1795.0 1005.5,1795.9 1006.0,1795.6 1006.5,1796.2 1007.0,1795.7 1007.5,1795.4 1008.0,1794.9 1008.5,1795.7 1009.0,1796.3 1009.5,1796.2 1010.0,1795.1 1010.5,1795.9 1011.0,1796.1 1011.5,1794.8 1012.0,1795.7 1012.5,1797.4 1013.0,1795.4 1013.5,1795.4 1014.0,1796.0 1014.5,1795.6 1015.0,1796.2 1015.5,1795.9 1016.0,1796.3 1016.5,1796.0 1017.0,1796.4 1017.5,1796.0 1018.0,1795.8 1018.5,1795.9 1019.0,1796.9 1019.5,1795.9 1020.0,1796.0 1020.5,1796.1 1021.0,1794.9 1021.5,1796.1 1022.0,1795.1 1022.5,1796.4 1023.0,1794.8 1023.5,1796.2 1024.0,1796.0 1024.5,1795.7 1025.0,1796.8 1025.5,1796.8 1026.0,1796.8 1026.5,1797.0 1027.0,1796.2 1027.5,1796.0 1028.0,1795.6 1028.5,1797.2 1029.0,1796.8 1029.5,1795.6 1030.0,1796.0 1030.5,1796.6 1031.0,1796.6 1031.5,1797.4 1032.0,1796.7 1032.5,1797.2 1033.0,1796.0 1033.5,1796.0 1034.0,1797.2 1034.5,1795.1 1035.0,1795.4 1035.5,1794.6 1036.0,1795.7 1036.5,1798.1 1037.0,1796.1 1037.5,1797.1 1038.0,1797.6 1038.5,1796.0 1039.0,1795.4 1039.5,1796.1 1040.0,1796.5 1040.5,1794.9 1041.0,1795.3 1041.5,1797.2 1042.0,1795.4 1042.5,1796.2 1043.0,1796.9 1043.5,1795.6 1044.0,1795.6 1044.5,1795.4 1045.0,1795.6 1045.5,1795.7 1046.0,1794.7 1046.5,1795.5 1047.0,1795.6 1047.5,1796.3 1048.0,1796.0 1048.5,1795.7 1049.0,1797.0 1049.5,1795.6 1050.0,1795.6 1050.5,1795.6 1051.0,1796.0 1051.5,1795.4 1052.0,1794.6 1052.5,1794.2 1053.0,1794.4 1053.5,1795.0 1054.0,1794.7 1054.5,1796.9 1055.0,1795.4 1055.5,1797.6 1056.0,1796.9 1056.5,1797.3 1057.0,1797.6 1057.5,1795.5 1058.0,1797.6 1058.5,1796.6 1059.0,1795.4 1059.5,1794.8 1060.0,1795.6 1060.5,1794.6 1061.0,1796.4 1061.5,1795.5 1062.0,1796.4 1062.5,1796.3 1063.0,1795.8 1063.5,1795.5 1064.0,1795.0 1064.5,1796.1 1065.0,1795.8 1065.5,1796.2 1066.0,1795.9 1066.5,1796.5 1067.0,1796.4 1067.5,1796.7 1068.0,1795.3 1068.5,1795.5 1069.0,1796.2 1069.5,1795.8 1070.0,1795.9 1070.5,1797.1 1071.0,1797.3 1071.5,1796.9 1072.0,1795.9 1072.5,1796.4 1073.0,1796.2 1073.5,1796.8 1074.0,1796.6 1074.5,1796.9 1075.0,1796.7 1075.5,1795.6 1076.0,1795.6 1076.5,1796.0 1077.0,1796.2 1077.5,1796.9 1078.0,1796.1 1078.5,1795.0 1079.0,1796.6 1079.5,1796.9 1080.0,1795.5 1080.5,1796.3 1081.0,1797.1 1081.5,1796.1 1082.0,1795.0 1082.5,1797.5 1083.0,1797.0 1083.5,1796.7 1084.0,1797.0 1084.5,1795.7 1085.0,1795.8 1085.5,1797.1 1086.0,1796.8 1086.5,1795.6 1087.0,1795.9 1087.5,1795.4 1088.0,1796.7 1088.5,1796.2 1089.0,1797.0 1089.5,1797.7 1090.0,1795.7 1090.5,1795.8 1091.0,1796.7 1091.5,1796.3 1092.0,1795.6 1092.5,1795.4 1093.0,1797.4 1093.5,1796.7 1094.0,1797.1 1094.5,1795.4 1095.0,1795.8 1095.5,1795.6 1096.0,1795.7 1096.5,1794.9 1097.0,1797.0 1097.5,1796.3 1098.0,1796.9 1098.5,1796.1 1099.0,1797.2 1099.5,1794.9 1100.0,1797.4 1100.5,1796.0 1101.0,1795.4 1101.5,1794.9 1102.0,1796.2 1102.5,1794.9 1103.0,1795.1 1103.5,1795.1 1104.0,1796.1 1104.5,1796.0 1105.0,1795.2 1105.5,1796.0 1106.0,1796.7 1106.5,1796.7 1107.0,1796.5 1107.5,1795.6 1108.0,1797.1 1108.5,1796.7 1109.0,1795.4 1109.5,1795.3 1110.0,1793.8 1110.5,1796.4 1111.0,1795.6 1111.5,1796.1 1112.0,1797.0 1112.5,1795.2 1113.0,1796.5 1113.5,1795.5 1114.0,1795.2 1114.5,1796.8 1115.0,1796.0 1115.5,1795.4 1116.0,1796.9 1116.5,1796.1 1117.0,1795.4 1117.5,1795.1 1118.0,1795.4 1118.5,1794.1 1119.0,1795.0 1119.5,1796.6 1120.0,1794.5 1120.5,1795.6 1121.0,1796.4 1121.5,1795.8 1122.0,1796.0 1122.5,1796.4 1123.0,1796.1 1123.5,1796.4 1124.0,1796.5 1124.5,1796.8 1125.0,1796.1 1125.5,1795.8 1126.0,1795.9 1126.5,1796.2 1127.0,1797.4 1127.5,1796.3 1128.0,1795.9 1128.5,1795.6 1129.0,1794.7 1129.5,1795.9 1130.0,1795.5 1130.5,1796.0 1131.0,1796.6 1131.5,1798.1 1132.0,1796.2 1132.5,1797.2 1133.0,1795.3 1133.5,1796.5 1134.0,1797.7 1134.5,1796.2 1135.0,1796.3 1135.5,1796.2 1136.0,1795.2 1136.5,1796.4 1137.0,1796.4 1137.5,1796.6 1138.0,1797.4 1138.5,1796.2 1139.0,1796.2 1139.5,1794.5 1140.0,1795.7 1140.5,1795.9 1141.0,1796.9 1141.5,1797.2 1142.0,1796.6 1142.5,1795.2 1143.0,1794.8 1143.5,1795.2 1144.0,1795.4 1144.5,1795.6 1145.0,1796.7 1145.5,1795.9 1146.0,1794.6 1146.5,1794.7 1147.0,1797.9 1147.5,1797.0 1148.0,1795.7 1148.5,1795.7 1149.0,1796.4 1149.5,1796.4 1150.0,1796.5 1150.5,1795.1 1151.0,1795.5 1151.5,1796.4 1152.0,1796.0 1152.5,1795.9 1153.0,1797.1 1153.5,1796.0 1154.0,1795.7 1154.5,1795.5 1155.0,1796.4 1155.5,1795.2 1156.0,1797.2 1156.5,1795.6 1157.0,1797.0 1157.5,1796.9 1158.0,1796.8 1158.5,1794.8 1159.0,1794.9 1159.5,1795.3 1160.0,1796.4 1160.5,1796.5 1161.0,1794.2 1161.5,1795.4 1162.0,1795.8 1162.5,1795.9 1163.0,1795.9 1163.5,1795.6 1164.0,1796.1 1164.5,1794.3 1165.0,1795.6 1165.5,1794.2 1166.0,1795.7 1166.5,1795.4 1167.0,1796.8 1167.5,1795.5 1168.0,1795.9 1168.5,1795.8 1169.0,1796.3 1169.5,1796.8 1170.0,1797.2 1170.5,1796.2 1171.0,1796.4 1171.5,1796.2 1172.0,1796.5 1172.5,1795.9 1173.0,1794.3 1173.5,1796.0 1174.0,1796.0 1174.5,1795.1 1175.0,1795.0 1175.5,1795.7 1176.0,1795.3 1176.5,1796.2 1177.0,1796.9 1177.5,1795.6 1178.0,1795.9 1178.5,1794.7 1179.0,1794.4 1179.5,1795.1 1180.0,1795.1 1180.5,1795.5 1181.0,1795.6 1181.5,1797.2 1182.0,1795.9 1182.5,1796.8 1183.0,1795.3 1183.5,1795.6 1184.0,1796.4 1184.5,1796.5 1185.0,1795.4 1185.5,1796.4 1186.0,1796.2 1186.5,1794.9 1187.0,1795.4 1187.5,1795.2 1188.0,1795.9 1188.5,1796.8 1189.0,1794.8 1189.5,1795.2 1190.0,1797.3 1190.5,1797.2 1191.0,1797.1 1191.5,1796.3 1192.0,1796.9 1192.5,1795.1 1193.0,1796.6 1193.5,1795.5 1194.0,1795.4 1194.5,1795.5 1195.0,1796.7 1195.5,1797.4 1196.0,1796.0 1196.5,1796.0 1197.0,1796.4 1197.5,1794.7 1198.0,1795.4 1198.5,1796.2 1199.0,1797.1 1199.5,1796.5 1200.0,1794.5 1200.5,1795.6 1201.0,1795.9 1201.5,1795.4 1202.0,1795.3 1202.5,1794.9 1203.0,1796.5 1203.5,1796.9 1204.0,1796.9 1204.5,1796.0 1205.0,1796.6 1205.5,1795.9 1206.0,1795.3 1206.5,1794.6 1207.0,1795.3 1207.5,1796.0 1208.0,1797.2 1208.5,1796.7 1209.0,1795.6 1209.5,1795.9 1210.0,1796.3 1210.5,1795.9 1211.0,1796.7 1211.5,1795.7 1212.0,1796.1 1212.5,1797.2 1213.0,1796.3 1213.5,1796.3 1214.0,1796.6 1214.5,1796.4 1215.0,1795.0 1215.5,1795.0 1216.0,1795.0 1216.5,1795.9 1217.0,1795.9 1217.5,1797.0 1218.0,1796.5 1218.5,1795.5 1219.0,1795.6 1219.5,1795.5 1220.0,1795.8 1220.5,1795.0 1221.0,1795.6 1221.5,1795.4 1222.0,1795.9 1222.5,1796.2 1223.0,1795.5 1223.5,1795.8 1224.0,1795.2 1224.5,1796.1 1225.0,1795.6 1225.5,1795.3 1226.0,1795.7 1226.5,1795.2 1227.0,1795.0 1227.5,1794.8 1228.0,1795.9 1228.5,1794.8 1229.0,1794.3 1229.5,1794.5 1230.0,1794.5 1230.5,1794.8 1231.0,1794.2 1231.5,1794.5 1232.0,1793.0 1232.5,1792.2 1233.0,1790.6 1233.5,1788.9 1234.0,1786.6 1234.5,1782.7 1235.0,1782.3 1235.5,1781.6 1235.8,1780.4 1236.0,1780.7 1236.5,1780.9 1237.0,1782.8 1237.5,1784.0 1238.0,1784.5 1238.5,1785.0 1239.0,1784.3 1239.5,1786.3 1240.0,1785.4 1240.5,1785.8 1241.0,1786.7 1241.5,1788.1 1242.0,1790.8 1242.5,1790.8 1243.0,1792.4 1243.5,1791.9 1244.0,1793.0 1244.5,1793.2 1245.0,1795.6 1245.5,1794.8 1246.0,1794.4 1246.5,1795.3 1247.0,1794.2 1247.5,1795.2 1248.0,1795.3 1248.5,1795.3 1249.0,1795.7 1249.5,1795.3 1250.0,1795.1 1250.5,1795.0 1251.0,1794.8 1251.5,1796.4 1252.0,1795.7 1252.5,1795.3 1253.0,1795.9 1253.5,1794.7 1254.0,1795.3 1254.5,1794.5 1255.0,1795.8 1255.5,1796.0 1256.0,1796.1 1256.5,1796.4 1257.0,1796.1 1257.5,1797.3 1258.0,1796.1 1258.5,1795.0 1259.0,1795.9 1259.5,1797.8 1260.0,1796.4 1260.5,1796.2 1261.0,1795.6 1261.5,1796.7 1262.0,1796.2 1262.5,1795.7 1263.0,1795.0 1263.5,1795.6 1264.0,1796.8 1264.5,1795.4 1265.0,1794.6 1265.5,1796.5 1266.0,1795.6 1266.5,1794.2 1267.0,1796.1 1267.5,1796.5 1268.0,1795.9 1268.5,1796.5 1269.0,1796.2 1269.5,1795.4 1270.0,1795.9 1270.5,1796.6 1271.0,1796.3 1271.5,1795.0 1272.0,1795.8 1272.5,1795.0 1273.0,1795.9 1273.5,1794.8 1274.0,1796.3 1274.5,1796.9 1275.0,1796.8 1275.5,1795.6 1276.0,1794.2 1276.5,1795.9 1277.0,1796.5 1277.5,1796.4 1278.0,1796.9 1278.5,1795.7 1279.0,1795.7 1279.5,1794.8 1280.0,1795.0 1280.5,1795.4 1281.0,1796.7 1281.5,1796.4 1282.0,1795.9 1282.5,1796.2 1283.0,1795.5 1283.5,1795.8 1284.0,1796.3 1284.5,1794.9 1285.0,1796.2 1285.5,1796.0 1286.0,1796.8 1286.5,1795.8 1287.0,1796.8 1287.5,1796.4 1288.0,1796.7 1288.5,1794.5 1289.0,1795.4 1289.5,1795.6 1290.0,1795.4 1290.5,1796.3 1291.0,1796.6 1291.5,1796.0 1292.0,1795.0 1292.5,1794.8 1293.0,1794.9 1293.5,1796.7 1294.0,1796.3 1294.5,1796.4 1295.0,1795.8 1295.5,1796.6 1296.0,1795.9 1296.5,1795.9 1297.0,1795.7 1297.5,1795.7 1298.0,1796.8 1298.5,1796.0 1299.0,1795.6 1299.5,1795.6 1300.0,1796.3 1300.5,1794.9 1301.0,1796.0 1301.5,1795.4 1302.0,1795.3 1302.5,1795.6 1303.0,1796.1 1303.5,1797.1 1304.0,1796.3 1304.5,1795.9 1305.0,1795.9 1305.5,1797.0 1306.0,1797.3 1306.5,1796.9 1307.0,1795.2 1307.5,1794.5 1308.0,1796.4 1308.5,1795.3 1309.0,1796.2 1309.5,1796.0 1310.0,1797.2 1310.5,1796.0 1311.0,1795.4 1311.5,1794.6 1312.0,1796.3 1312.5,1796.0 1313.0,1795.9 1313.5,1796.0 1314.0,1797.1 1314.5,1796.5 1315.0,1797.2 1315.5,1796.5 1316.0,1796.2 1316.5,1796.5 1317.0,1795.8 1317.5,1796.6 1318.0,1796.0 1318.5,1797.3 1319.0,1795.5 1319.5,1795.8 1320.0,1796.3 1320.5,1795.8 1321.0,1795.9 1321.5,1796.3 1322.0,1796.7 1322.5,1795.9 1323.0,1797.2 1323.5,1796.7 1324.0,1795.5 1324.5,1795.5 1325.0,1797.0 1325.5,1794.5 1326.0,1796.0 1326.5,1796.2 1327.0,1796.5 1327.5,1796.3 1328.0,1797.1 1328.5,1796.7 1329.0,1796.6 1329.5,1796.1 1330.0,1796.5 1330.5,1797.0 1331.0,1795.1 1331.5,1795.6 1332.0,1794.9 1332.5,1796.6 1333.0,1796.0 1333.5,1796.5 1334.0,1795.4 1334.5,1796.0 1335.0,1795.1 1335.5,1795.6 1336.0,1796.0 1336.5,1797.5 1337.0,1796.2 1337.5,1795.9 1338.0,1797.1 1338.5,1797.1 1339.0,1795.9 1339.5,1796.4 1340.0,1796.5 1340.5,1797.2 1341.0,1796.5 1341.5,1794.9 1342.0,1795.7 1342.5,1796.9 1343.0,1796.3 1343.5,1795.2 1344.0,1795.5 1344.5,1795.9 1345.0,1795.0 1345.5,1793.6 1346.0,1796.0 1346.5,1795.3 1347.0,1795.7 1347.5,1796.1 1348.0,1796.2 1348.5,1795.4 1349.0,1796.3 1349.5,1795.1 1350.0,1796.1 1350.5,1795.9 1351.0,1796.3 1351.5,1795.4 1352.0,1794.0 1352.5,1796.4 1353.0,1797.1 1353.5,1796.8 1354.0,1795.1 1354.5,1797.0 1355.0,1796.0 1355.5,1795.0 1356.0,1795.6 1356.5,1796.9 1357.0,1795.7 1357.5,1795.9 1358.0,1795.8 1358.5,1796.4 1359.0,1795.5 1359.5,1796.3 1360.0,1795.1 1360.5,1795.9 1361.0,1794.5 1361.5,1795.4 1362.0,1796.0 1362.5,1795.6 1363.0,1794.5 1363.5,1795.9 1364.0,1795.6 1364.5,1796.0 1365.0,1795.8 1365.5,1796.6 1366.0,1796.1 1366.5,1795.1 1367.0,1794.7 1367.5,1795.6 1368.0,1795.8 1368.5,1796.0 1369.0,1794.6 1369.5,1794.7 1370.0,1793.8 1370.5,1794.7 1371.0,1796.2 1371.5,1796.8 1372.0,1796.2 1372.5,1795.5 1373.0,1795.2 1373.5,1796.5 1374.0,1795.9 1374.5,1794.4 1375.0,1793.2 1375.5,1792.5 1376.0,1792.2 1376.5,1791.9 1377.0,1788.8 1377.5,1786.1 1378.0,1783.3 1378.5,1779.9 1379.0,1777.5 1379.5,1774.6 1380.0,1774.3 1380.0,1774.6 1380.5,1775.3 1381.0,1776.9 1381.5,1778.3 1382.0,1780.1 1382.5,1782.1 1383.0,1784.4 1383.5,1784.2 1384.0,1783.8 1384.5,1782.8 1385.0,1783.2 1385.5,1784.9 1386.0,1787.1 1386.5,1788.8 1387.0,1789.5 1387.5,1791.5 1388.0,1791.8 1388.5,1793.0 1389.0,1793.9 1389.5,1794.7 1390.0,1794.7 1390.5,1795.0 1391.0,1795.7 1391.5,1794.4 1392.0,1796.2 1392.5,1796.5 1393.0,1795.6 1393.5,1795.1 1394.0,1794.6 1394.5,1795.2 1395.0,1796.4 1395.5,1796.4 1396.0,1796.0 1396.5,1795.6 1397.0,1795.2 1397.5,1795.7 1398.0,1795.4 1398.5,1795.5 1399.0,1795.9 1399.5,1794.8 1400.0,1795.5 1400.5,1795.4 1401.0,1795.7 1401.5,1796.3 1402.0,1795.9 1402.5,1797.5 1403.0,1795.1 1403.5,1795.4 1404.0,1794.4 1404.5,1795.5 1405.0,1796.3 1405.5,1797.0 1406.0,1795.5 1406.5,1796.3 1407.0,1794.9 1407.5,1795.4 1408.0,1795.6 1408.5,1794.3 1409.0,1795.7 1409.5,1795.7 1410.0,1795.7 1410.5,1795.7 1411.0,1794.7 1411.5,1796.3 1412.0,1795.6 1412.5,1795.1 1413.0,1796.0 1413.5,1795.5 1414.0,1794.4 1414.5,1794.5 1415.0,1796.4 1415.5,1796.2 1416.0,1796.4 1416.5,1796.5 1417.0,1795.7 1417.5,1797.2 1418.0,1796.0 1418.5,1795.8 1419.0,1794.9 1419.5,1795.0 1420.0,1795.5 1420.5,1795.3 1421.0,1795.5 1421.5,1795.9 1422.0,1795.1 1422.5,1795.5 1423.0,1795.8 1423.5,1795.9 1424.0,1794.7 1424.5,1795.1 1425.0,1794.7 1425.5,1795.3 1426.0,1794.0 1426.5,1794.7 1427.0,1793.2 1427.5,1794.6 1428.0,1795.9 1428.5,1795.5 1429.0,1795.6 1429.5,1795.2 1430.0,1795.0 1430.5,1795.3 1431.0,1795.3 1431.5,1795.6 1432.0,1795.5 1432.5,1795.8 1433.0,1794.1 1433.5,1795.5 1434.0,1794.6 1434.5,1794.7 1435.0,1796.1 1435.5,1796.2 1436.0,1796.4 1436.5,1795.7 1437.0,1795.8 1437.5,1795.1 1438.0,1796.1 1438.5,1796.5 1439.0,1797.5 1439.5,1795.9 1440.0,1797.0 1440.5,1797.2 1441.0,1797.3 1441.5,1797.0 1442.0,1796.3 1442.5,1796.4 1443.0,1796.8 1443.5,1796.3 1444.0,1795.4 1444.5,1796.0 1445.0,1795.6 1445.5,1796.1 1446.0,1795.1 1446.5,1796.4 1447.0,1797.2 1447.5,1796.0 1448.0,1797.1 1448.5,1795.3 1449.0,1795.5 1449.5,1796.5 1450.0,1795.8 1450.5,1796.4 1451.0,1796.3 1451.5,1796.8 1452.0,1796.7 1452.5,1795.5 1453.0,1796.5 1453.5,1796.6 1454.0,1796.4 1454.5,1796.2 1455.0,1795.9 1455.5,1794.6 1456.0,1795.6 1456.5,1796.1 1457.0,1795.8 1457.5,1796.3 1458.0,1795.2 1458.5,1794.0 1459.0,1795.9"/>
<path fill="#000" fill-rule="evenodd" d="M60,13H1463V606H60Z M65,17V601H1458V17Z"/>
<path fill="#000" fill-rule="evenodd" d="M59,625H1463V1219H59Z M65,630V1214H1458V630Z"/>
<path fill="#000" fill-rule="evenodd" d="M58,1234H1464V1828H58Z M63,1240V1823H1459V1240Z"/>
<path fill="#000" d="M159.8,597h5v4h-5ZM259.7,592h5v9h-5ZM359.5,597h5v4h-5ZM459.4,592h5v9h-5ZM559.2,597h5v4h-5ZM659.1,592h5v9h-5ZM758.9,597h5v4h-5ZM858.8,592h5v9h-5ZM958.6,597h5v4h-5ZM1058.5,592h5v9h-5ZM1158.3,597h5v4h-5ZM1258.2,592h5v9h-5ZM1358.0,597h5v4h-5Z"/>
<path fill="#000" d="M159.4,1210h5v4h-5ZM259.3,1205h5v9h-5ZM359.2,1210h5v4h-5ZM459.1,1205h5v9h-5ZM559.0,1210h5v4h-5ZM658.9,1205h5v9h-5ZM758.8,1210h5v4h-5ZM858.7,1205h5v9h-5ZM958.6,1210h5v4h-5ZM1058.5,1205h5v9h-5ZM1158.4,1210h5v4h-5ZM1258.3,1205h5v9h-5ZM1358.2,1210h5v4h-5Z"/>
<path fill="#000" d="M158.1,1819h5v4h-5ZM258.1,1814h5v9h-5ZM358.2,1819h5v4h-5ZM458.3,1814h5v9h-5ZM558.3,1819h5v4h-5ZM658.4,1814h5v9h-5ZM758.5,1819h5v4h-5ZM858.6,1814h5v9h-5ZM958.6,1819h5v4h-5ZM1058.7,1814h5v9h-5ZM1158.8,1819h5v4h-5ZM1258.8,1814h5v9h-5ZM1358.9,1819h5v4h-5Z"/>
<text x="61.4" y="1876" font-family="'Liberation Serif', serif" font-size="48" text-anchor="middle">10</text>
<text x="261.1" y="1876" font-family="'Liberation Serif', serif" font-size="48" text-anchor="middle">20</text>
<text x="460.9" y="1876" font-family="'Liberation Serif', serif" font-size="48" text-anchor="middle">30</text>
<text x="659.9" y="1876" font-family="'Liberation Serif', serif" font-size="48" text-anchor="middle">40</text>
<text x="861.1" y="1876" font-family="'Liberation Serif', serif" font-size="48" text-anchor="middle">50</text>
<text x="1061.0" y="1876" font-family="'Liberation Serif', serif" font-size="48" text-anchor="middle">60</text>
<text x="1260.7" y="1876" font-family="'Liberation Serif', serif" font-size="48" text-anchor="middle">70</text>
<text x="1462.0" y="1876" font-family="'Liberation Serif', serif" font-size="48" text-anchor="middle">80</text>
<text x="90" y="76" font-family="'Liberation Serif', serif" font-weight="bold" font-size="49">(a)</text>
<text x="85" y="691" font-family="'Liberation Serif', serif" font-weight="bold" font-size="49">(b)</text>
<text x="80" y="1311" font-family="'Liberation Serif', serif" font-weight="bold" font-size="49">(c)</text>
<text x="1139" y="93" font-family="'Liberation Serif', serif" font-weight="bold" font-size="49">B-&#160; Bastnaesite</text>
<text x="1188" y="701" font-family="'Liberation Serif', serif" font-weight="bold" font-size="49">P-&#160; Parisite</text>
<text x="1187" y="1316" font-family="'Liberation Serif', serif" font-weight="bold" font-size="49">F-&#160; Fluorite</text>
<text x="644" y="1925" font-family="'Liberation Serif', serif" font-weight="bold" font-size="49">2θ (degree)</text>
<text transform="translate(41,1032) rotate(-90)" font-family="'Liberation Serif', serif" font-weight="bold" font-size="49">intensity(a.u)</text>
<text x="227.6" y="435.7" font-family="'Liberation Serif', serif" font-size="39" text-anchor="middle">B</text>
<text x="361.4" y="173.0" font-family="'Liberation Serif', serif" font-size="39" text-anchor="middle">B</text>
<text x="481.5" y="148.0" font-family="'Liberation Serif', serif" font-size="39" text-anchor="middle">B</text>
<text x="594.8" y="453.8" font-family="'Liberation Serif', serif" font-size="39" text-anchor="middle">B</text>
<text x="733.5" y="336.2" font-family="'Liberation Serif', serif" font-size="39" text-anchor="middle">B</text>
<text x="754.6" y="386.0" font-family="'Liberation Serif', serif" font-size="39" text-anchor="middle">B</text>
<text x="812.4" y="432.1" font-family="'Liberation Serif', serif" font-size="39" text-anchor="middle">B</text>
<text x="879.5" y="504.5" font-family="'Liberation Serif', serif" font-size="39" text-anchor="middle">B</text>
<text x="947.4" y="449.8" font-family="'Liberation Serif', serif" font-size="39" text-anchor="middle">B</text>
<text x="984.7" y="526.6" font-family="'Liberation Serif', serif" font-size="39" text-anchor="middle">B</text>
<text x="1023.3" y="525.0" font-family="'Liberation Serif', serif" font-size="39" text-anchor="middle">B</text>
<text x="1104.6" y="517.6" font-family="'Liberation Serif', serif" font-size="39" text-anchor="middle">B</text>
<text x="1142.5" y="503.8" font-family="'Liberation Serif', serif" font-size="39" text-anchor="middle">B</text>
<text x="1245.6" y="532.9" font-family="'Liberation Serif', serif" font-size="39" text-anchor="middle">B</text>
<text x="1303.4" y="452.7" font-family="'Liberation Serif', serif" font-size="39" text-anchor="middle">B</text>
<text x="1331.6" y="520.7" font-family="'Liberation Serif', serif" font-size="39" text-anchor="middle">B</text>
<text x="244.0" y="1075.0" font-family="'Liberation Serif', serif" font-size="39" text-anchor="middle">P</text>
<text x="364.0" y="841.7" font-family="'Liberation Serif', serif" font-size="39" text-anchor="middle">P</text>
<text x="495.3" y="772.0" font-family="'Liberation Serif', serif" font-size="39" text-anchor="middle">P</text>
<text x="743.1" y="1011.9" font-family="'Liberation Serif', serif" font-size="39" text-anchor="middle">P</text>
<text x="789.0" y="1060.2" font-family="'Liberation Serif', serif" font-size="39" text-anchor="middle">P</text>
<text x="829.2" y="1019.7" font-family="'Liberation Serif', serif" font-size="39" text-anchor="middle">P</text>
<text x="887.0" y="1079.7" font-family="'Liberation Serif', serif" font-size="39" text-anchor="middle">P</text>
<text x="963.0" y="1035.8" font-family="'Liberation Serif', serif" font-size="39" text-anchor="middle">P</text>
<text x="1052.2" y="1090.9" font-family="'Liberation Serif', serif" font-size="39" text-anchor="middle">P</text>
<text x="1174.1" y="1115.8" font-family="'Liberation Serif', serif" font-size="39" text-anchor="middle">P</text>
<text x="1256.2" y="1111.5" font-family="'Liberation Serif', serif" font-size="39" text-anchor="middle">P</text>
<text x="1319.2" y="1107.6" font-family="'Liberation Serif', serif" font-size="39" text-anchor="middle">P</text>
<text x="432.5" y="1351.9" font-family="'Liberation Serif', serif" font-size="39" text-anchor="middle">F</text>
<text x="806.6" y="1614.0" font-family="'Liberation Serif', serif" font-size="39" text-anchor="middle">F</text>
<text x="981.7" y="1727.3" font-family="'Liberation Serif', serif" font-size="39" text-anchor="middle">F</text>
<text x="1238.7" y="1772.6" font-family="'Liberation Serif', serif" font-size="39" text-anchor="middle">F</text>
<text x="1381.8" y="1764.4" font-family="'Liberation Serif', serif" font-size="39" text-anchor="middle">F</text>
</svg></body></html>
